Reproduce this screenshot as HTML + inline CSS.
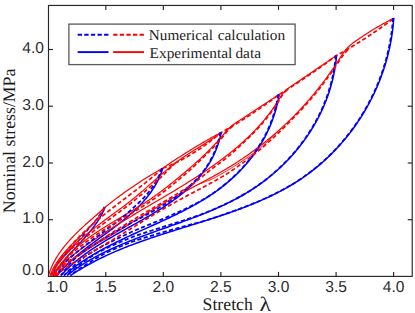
<!DOCTYPE html>
<html><head><meta charset="utf-8"><title>chart</title>
<style>
html,body{margin:0;padding:0;background:#fff;}
body{width:415px;height:313px;overflow:hidden;}
svg{display:block;}
text{text-rendering:geometricPrecision;}
.sans{font-family:"Liberation Sans",sans-serif;font-size:15.8px;fill:#2b2b2b;}
.serif{font-family:"Liberation Serif",serif;font-size:14.9px;fill:#1c1c1c;}
</style></head><body>
<svg width="415" height="313" viewBox="0 0 415 313">
<rect x="0" y="0" width="415" height="313" fill="#fff"/>
<defs><clipPath id="c"><rect x="48.5" y="5.45" width="363.7" height="273.45"/></clipPath></defs>
<g clip-path="url(#c)" stroke-linejoin="round">
<path d="M104.36 206.90 L104.19 207.22 L104.03 207.54 L103.86 207.87 L103.69 208.19 L103.52 208.50 L103.35 208.82 L103.18 209.14 L103.00 209.45 L102.82 209.77 L102.65 210.08 L102.47 210.39 L102.29 210.70 L102.11 211.01 L101.93 211.32 L101.74 211.62 L101.56 211.93 L101.37 212.23 L101.18 212.54 L100.99 212.84 L100.80 213.14 L100.61 213.44 L100.42 213.74 L100.23 214.04 L100.03 214.33 L99.84 214.63 L99.64 214.92 L99.44 215.22 L99.24 215.51 L99.04 215.80 L98.84 216.09 L98.64 216.38 L98.44 216.67 L98.23 216.96 L98.02 217.25 L97.82 217.53 L97.61 217.82 L97.40 218.10 L97.19 218.39 L96.98 218.67 L96.77 218.95 L96.55 219.23 L96.34 219.51 L96.12 219.79 L95.91 220.07 L95.69 220.34 L95.47 220.62 L95.25 220.90 L95.03 221.17 L94.81 221.44 L94.59 221.72 L94.37 221.99 L94.15 222.26 L93.92 222.53 L93.70 222.80 L93.47 223.07 L93.24 223.34 L93.01 223.61 L92.78 223.88 L92.55 224.15 L92.32 224.41 L92.09 224.68 L91.86 224.94 L91.63 225.21 L91.39 225.47 L91.16 225.73 L90.92 226.00 L90.69 226.26 L90.45 226.52 L90.21 226.78 L89.97 227.04 L89.73 227.30 L89.50 227.56 L89.29 227.84 L89.07 228.12 L88.86 228.40 L88.64 228.68 L88.43 228.96 L88.21 229.24 L87.99 229.52 L87.78 229.80 L87.56 230.08 L87.34 230.35 L87.12 230.63 L86.90 230.91 L86.68 231.19 L86.45 231.46 L86.23 231.74 L86.01 232.02 L85.78 232.29 L85.56 232.57 L85.33 232.84 L85.11 233.12 L84.88 233.39 L84.65 233.67 L84.42 233.94 L84.20 234.21 L83.96 234.48 L83.73 234.75 L83.49 235.02 L83.26 235.29 L83.02 235.56 L82.78 235.83 L82.55 236.09 L82.31 236.36 L82.07 236.63 L81.83 236.90 L81.59 237.16 L81.35 237.43 L81.11 237.70 L80.87 237.97 L80.63 238.23 L80.39 238.50 L80.15 238.77 L79.91 239.03 L79.67 239.30 L79.42 239.56 L79.18 239.83 L78.94 240.10 L78.69 240.36 L78.45 240.63 L78.21 240.89 L77.96 241.16 L77.72 241.43 L77.47 241.69 L77.23 241.96 L76.98 242.22 L76.74 242.49 L76.49 242.75 L76.25 243.02 L76.00 243.28 L75.75 243.55 L75.51 243.82 L75.26 244.08 L75.01 244.35 L74.77 244.61 L74.52 244.88 L74.27 245.15 L74.03 245.41 L73.78 245.68 L73.53 245.94 L73.29 246.21 L73.04 246.48 L72.79 246.74 L72.54 247.01 L72.30 247.28 L72.05 247.54 L71.80 247.81 L71.56 248.08 L71.31 248.34 L71.06 248.61 L70.81 248.88 L70.57 249.15 L70.32 249.41 L70.07 249.68 L69.83 249.95 L69.58 250.22 L69.33 250.49 L69.09 250.76 L68.84 251.03 L68.59 251.30 L68.35 251.57 L68.10 251.84 L67.86 252.11 L67.61 252.38 L67.37 252.65 L67.12 252.92 L66.88 253.19 L66.63 253.46 L66.39 253.73 L66.14 254.01 L65.90 254.28 L65.66 254.55 L65.42 254.83 L65.17 255.10 L64.93 255.37 L64.69 255.65 L64.45 255.92 L64.21 256.20 L63.97 256.47 L63.72 256.75 L63.48 257.03 L63.25 257.30 L63.01 257.58 L62.77 257.86 L62.53 258.14 L62.29 258.42 L62.05 258.69 L61.82 258.97 L61.58 259.25 L61.34 259.54 L61.11 259.82 L60.87 260.10 L60.64 260.38 L60.41 260.66 L60.17 260.95 L59.94 261.23 L59.71 261.51 L59.48 261.80 L59.25 262.08 L59.02 262.37 L58.79 262.66 L58.56 262.94 L58.33 263.23 L58.10 263.52 L57.88 263.81 L57.65 264.10 L57.43 264.39 L57.20 264.68 L56.98 264.97 L56.75 265.26 L56.53 265.55 L56.31 265.85 L56.09 266.14 L55.87 266.44 L55.65 266.73 L55.52 267.09 L55.39 267.45 L55.26 267.81 L55.13 268.17 L55.01 268.53 L54.88 268.89 L54.76 269.26 L54.64 269.62 L54.51 269.98 L54.39 270.34 L54.28 270.70 L54.16 271.07 L54.04 271.43 L53.93 271.79 L53.82 272.15 L53.71 272.52 L53.60 272.88 L53.49 273.24 L53.38 273.60 L53.28 273.97 L53.17 274.33 L53.07 274.69 L52.97 275.06 L52.87 275.42" fill="none" stroke="#0000ff" stroke-width="1.50" stroke-dasharray="4.2 2.4"/>
<path d="M48.40 275.50 L48.74 274.39 L49.11 273.30 L49.48 272.21 L49.88 271.13 L50.29 270.06 L50.71 269.00 L51.15 267.95 L51.61 266.91 L52.07 265.88 L52.56 264.85 L53.06 263.83 L53.57 262.82 L54.09 261.82 L54.63 260.83 L55.18 259.84 L55.74 258.86 L56.32 257.89 L56.91 256.93 L57.51 255.97 L58.12 255.02 L58.74 254.08 L59.38 253.15 L60.02 252.22 L60.68 251.29 L61.34 250.38 L62.02 249.47 L62.70 248.57 L63.40 247.67 L64.10 246.78 L64.82 245.90 L65.54 245.02 L66.27 244.14 L67.01 243.28 L67.75 242.41 L68.51 241.56 L69.27 240.70 L70.04 239.86 L70.81 239.01 L71.59 238.18 L72.38 237.34 L73.17 236.52 L73.97 235.69 L74.78 234.87 L75.59 234.06 L76.40 233.25 L77.22 232.44 L78.05 231.64 L78.88 230.84 L79.71 230.04 L80.54 229.25 L81.38 228.46 L82.22 227.67 L83.07 226.89 L83.91 226.11 L84.76 225.33 L85.61 224.56 L86.47 223.79 L87.32 223.02 L88.18 222.25 L89.03 221.48 L89.89 220.72 L90.74 219.96 L91.60 219.20 L92.46 218.44 L93.31 217.69 L94.17 216.93 L95.02 216.18 L95.88 215.43 L96.73 214.68 L97.58 213.93 L98.43 213.18 L99.27 212.43 L100.11 211.68 L100.95 210.93 L101.79 210.19 L102.62 209.44 L103.45 208.69 L104.28 207.95 L105.10 207.20 L105.10 207.20 L106.58 206.02 L108.06 204.85 L109.54 203.69 L111.02 202.54 L112.50 201.40 L113.98 200.26 L115.46 199.14 L116.94 198.03 L118.42 196.92 L119.89 195.83 L121.37 194.74 L122.85 193.67 L124.33 192.60 L125.81 191.54 L127.29 190.50 L128.77 189.46 L130.25 188.43 L131.73 187.41 L133.21 186.40 L134.69 185.40 L136.17 184.41 L137.65 183.43 L139.13 182.46 L140.61 181.50 L142.09 180.54 L143.57 179.60 L145.05 178.67 L146.53 177.74 L148.01 176.83 L149.48 175.92 L150.96 175.03 L152.44 174.14 L153.92 173.26 L155.40 172.40 L156.88 171.54 L158.36 170.69 L159.84 169.85 L161.32 169.02 L162.80 168.20 L162.80 168.20 L164.30 167.16 L165.80 166.13 L167.30 165.11 L168.80 164.09 L170.30 163.07 L171.80 162.07 L173.30 161.07 L174.80 160.07 L176.30 159.09 L177.80 158.11 L179.30 157.13 L180.80 156.16 L182.30 155.20 L183.80 154.24 L185.30 153.29 L186.80 152.35 L188.30 151.41 L189.80 150.48 L191.30 149.56 L192.80 148.64 L194.30 147.73 L195.80 146.82 L197.30 145.93 L198.80 145.03 L200.30 144.15 L201.80 143.27 L203.30 142.39 L204.80 141.53 L206.30 140.66 L207.80 139.81 L209.30 138.96 L210.80 138.12 L212.30 137.28 L213.80 136.45 L215.30 135.63 L216.80 134.81 L218.30 134.00 L219.80 133.20 L221.30 132.40" fill="none" stroke="#ff0000" stroke-width="1.20"/>
<path d="M105.10 207.20 L104.96 207.54 L104.82 207.88 L104.68 208.21 L104.54 208.55 L104.39 208.88 L104.24 209.22 L104.10 209.55 L103.95 209.88 L103.80 210.21 L103.64 210.54 L103.49 210.87 L103.33 211.20 L103.18 211.53 L103.02 211.85 L102.86 212.18 L102.70 212.50 L102.53 212.82 L102.37 213.15 L102.21 213.47 L102.04 213.79 L101.87 214.11 L101.70 214.42 L101.53 214.74 L101.36 215.06 L101.19 215.37 L101.01 215.69 L100.84 216.00 L100.66 216.32 L100.48 216.63 L100.30 216.94 L100.12 217.25 L99.94 217.56 L99.75 217.87 L99.57 218.18 L99.38 218.48 L99.20 218.79 L99.01 219.10 L98.82 219.40 L98.63 219.70 L98.44 220.01 L98.25 220.31 L98.05 220.61 L97.86 220.91 L97.66 221.21 L97.47 221.51 L97.27 221.81 L97.07 222.11 L96.87 222.41 L96.67 222.71 L96.47 223.00 L96.26 223.30 L96.06 223.59 L95.85 223.89 L95.65 224.18 L95.44 224.47 L95.23 224.76 L95.03 225.06 L94.82 225.35 L94.60 225.64 L94.39 225.93 L94.18 226.22 L93.97 226.50 L93.75 226.79 L93.54 227.08 L93.32 227.37 L93.11 227.65 L92.89 227.94 L92.67 228.22 L92.45 228.51 L92.23 228.79 L92.01 229.08 L91.79 229.36 L91.57 229.64 L91.34 229.92 L91.12 230.20 L90.89 230.49 L90.67 230.77 L90.44 231.05 L90.22 231.33 L89.99 231.60 L89.76 231.88 L89.53 232.16 L89.30 232.44 L89.07 232.72 L88.84 232.99 L88.61 233.27 L88.38 233.55 L88.15 233.82 L87.92 234.10 L87.68 234.37 L87.45 234.65 L87.21 234.92 L86.98 235.20 L86.74 235.47 L86.51 235.74 L86.27 236.02 L86.03 236.29 L85.80 236.56 L85.56 236.83 L85.32 237.10 L85.08 237.38 L84.84 237.65 L84.60 237.92 L84.36 238.19 L84.12 238.46 L83.88 238.73 L83.64 239.00 L83.40 239.27 L83.16 239.54 L82.92 239.81 L82.67 240.08 L82.43 240.34 L82.19 240.61 L81.94 240.88 L81.70 241.15 L81.46 241.42 L81.21 241.68 L80.97 241.95 L80.72 242.22 L80.48 242.49 L80.23 242.75 L79.99 243.02 L79.74 243.29 L79.50 243.55 L79.25 243.82 L79.00 244.09 L78.76 244.35 L78.51 244.62 L78.26 244.89 L78.02 245.15 L77.77 245.42 L77.52 245.69 L77.28 245.95 L77.03 246.22 L76.78 246.48 L76.54 246.75 L76.29 247.02 L76.04 247.28 L75.80 247.55 L75.55 247.81 L75.30 248.08 L75.05 248.35 L74.81 248.61 L74.56 248.88 L74.31 249.15 L74.07 249.41 L73.82 249.68 L73.57 249.94 L73.33 250.21 L73.08 250.48 L72.83 250.74 L72.59 251.01 L72.34 251.28 L72.10 251.54 L71.85 251.81 L71.61 252.08 L71.36 252.35 L71.12 252.61 L70.87 252.88 L70.63 253.15 L70.38 253.42 L70.14 253.69 L69.89 253.95 L69.65 254.22 L69.41 254.49 L69.16 254.76 L68.92 255.03 L68.68 255.30 L68.44 255.57 L68.20 255.84 L67.95 256.11 L67.71 256.38 L67.47 256.65 L67.23 256.92 L66.99 257.19 L66.75 257.47 L66.51 257.74 L66.28 258.01 L66.04 258.28 L65.80 258.55 L65.56 258.83 L65.33 259.10 L65.09 259.38 L64.85 259.65 L64.62 259.92 L64.38 260.20 L64.15 260.47 L63.92 260.75 L63.68 261.03 L63.45 261.30 L63.22 261.58 L62.99 261.86 L62.76 262.13 L62.53 262.41 L62.30 262.69 L62.07 262.97 L61.84 263.25 L61.61 263.53 L61.39 263.81 L61.16 264.09 L60.94 264.37 L60.71 264.65 L60.49 264.94 L60.26 265.22 L60.04 265.50 L59.82 265.79 L59.60 266.07 L59.38 266.36 L59.16 266.64 L58.94 266.93 L58.72 267.21 L58.51 267.50 L58.29 267.79 L58.08 268.08 L57.86 268.37 L57.65 268.66 L57.43 268.95 L57.22 269.24 L57.01 269.53 L56.80 269.82 L56.59 270.11 L56.38 270.41 L56.18 270.70 L55.97 271.00 L55.77 271.29 L55.56 271.59 L55.36 271.88 L55.16 272.18 L54.95 272.48 L54.75 272.78 L54.56 273.08 L54.36 273.38 L54.16 273.68 L53.96 273.98 L53.77 274.28 L53.57 274.59 L53.38 274.89 L53.19 275.19 L53.00 275.50" fill="none" stroke="#0000ff" stroke-width="1.50"/>
<path d="M50.00 275.50 L50.14 275.14 L50.27 274.79 L50.41 274.44 L50.55 274.09 L50.70 273.74 L50.84 273.39 L50.99 273.04 L51.14 272.70 L51.29 272.35 L51.44 272.01 L51.60 271.67 L51.75 271.33 L51.91 270.99 L52.07 270.65 L52.23 270.32 L52.40 269.98 L52.56 269.65 L52.73 269.32 L52.90 268.98 L53.07 268.66 L53.24 268.33 L53.42 268.00 L53.59 267.67 L53.77 267.35 L53.95 267.03 L54.13 266.71 L54.31 266.38 L54.50 266.07 L54.68 265.75 L54.87 265.43 L55.06 265.11 L55.25 264.80 L55.44 264.49 L55.63 264.17 L55.83 263.86 L56.02 263.55 L56.22 263.24 L56.42 262.93 L56.62 262.63 L56.82 262.32 L57.03 262.02 L57.23 261.71 L57.44 261.41 L57.65 261.11 L57.86 260.81 L58.07 260.51 L58.28 260.21 L58.49 259.91 L58.70 259.61 L58.92 259.31 L59.14 259.02 L59.36 258.73 L59.57 258.43 L59.79 258.14 L60.02 257.85 L60.24 257.56 L60.46 257.27 L60.69 256.98 L60.91 256.69 L61.14 256.40 L61.37 256.12 L61.60 255.83 L61.83 255.55 L62.06 255.26 L62.30 254.98 L62.53 254.70 L62.76 254.41 L63.00 254.13 L63.24 253.85 L63.48 253.57 L63.71 253.29 L63.95 253.02 L64.19 252.74 L64.44 252.46 L64.68 252.18 L64.92 251.91 L65.17 251.63 L65.41 251.36 L65.66 251.09 L65.90 250.81 L66.15 250.54 L66.40 250.27 L66.65 250.00 L66.90 249.73 L67.15 249.46 L67.40 249.19 L67.65 248.92 L67.90 248.65 L68.16 248.38 L68.41 248.11 L68.67 247.84 L68.92 247.58 L69.18 247.31 L69.43 247.04 L69.69 246.78 L69.95 246.51 L70.21 246.25 L70.47 245.98 L70.72 245.72 L70.98 245.46 L71.24 245.19 L71.51 244.93 L71.77 244.67 L72.03 244.41 L72.29 244.14 L72.55 243.88 L72.82 243.62 L73.08 243.36 L73.34 243.10 L73.61 242.84 L73.87 242.58 L74.14 242.32 L74.40 242.06 L74.67 241.80 L74.93 241.54 L75.20 241.28 L75.46 241.02 L75.73 240.76 L76.00 240.50 L76.26 240.25 L76.53 239.99 L76.80 239.73 L77.07 239.47 L77.33 239.21 L77.60 238.95 L77.87 238.70 L78.14 238.44 L78.40 238.18 L78.67 237.92 L78.94 237.67 L79.21 237.41 L79.48 237.15 L79.74 236.89 L80.01 236.63 L80.28 236.38 L80.55 236.12 L80.82 235.86 L81.08 235.60 L81.35 235.34 L81.62 235.09 L81.89 234.83 L82.16 234.57 L82.42 234.31 L82.69 234.05 L82.96 233.79 L83.22 233.54 L83.49 233.28 L83.76 233.02 L84.02 232.76 L84.29 232.50 L84.55 232.24 L84.82 231.98 L85.08 231.72 L85.35 231.46 L85.61 231.20 L85.88 230.94 L86.14 230.67 L86.41 230.41 L86.67 230.15 L86.93 229.89 L87.19 229.63 L87.45 229.36 L87.72 229.10 L87.98 228.84 L88.24 228.57 L88.50 228.31 L88.76 228.04 L89.02 227.78 L89.27 227.51 L89.53 227.25 L89.79 226.98 L90.04 226.71 L90.30 226.45 L90.56 226.18 L90.81 225.91 L91.06 225.64 L91.32 225.37 L91.57 225.10 L91.82 224.83 L92.07 224.56 L92.32 224.29 L92.57 224.02 L92.82 223.74 L93.07 223.47 L93.32 223.20 L93.57 222.92 L93.81 222.65 L94.06 222.37 L94.30 222.09 L94.54 221.82 L94.79 221.54 L95.03 221.26 L95.27 220.98 L95.51 220.70 L95.75 220.42 L95.99 220.14 L96.22 219.86 L96.46 219.58 L96.69 219.29 L96.93 219.01 L97.16 218.72 L97.39 218.44 L97.62 218.15 L97.85 217.86 L98.08 217.58 L98.31 217.29 L98.54 217.00 L98.76 216.71 L98.99 216.41 L99.21 216.12 L99.43 215.83 L99.65 215.53 L99.87 215.24 L100.09 214.94 L100.31 214.65 L100.52 214.35 L100.74 214.05 L100.95 213.75 L101.16 213.45 L101.37 213.14 L101.58 212.84 L101.79 212.54 L101.99 212.23 L102.20 211.93 L102.40 211.62 L102.61 211.31 L102.81 211.00 L103.01 210.69 L103.20 210.38 L103.40 210.07 L103.60 209.75 L103.79 209.44 L103.98 209.12 L104.17 208.80 L104.36 208.49 L104.55 208.17 L104.73 207.85 L104.92 207.52 L105.10 207.20" fill="none" stroke="#ff0000" stroke-width="1.20"/>
<path d="M162.80 168.20 L162.61 168.83 L162.41 169.45 L162.20 170.08 L161.99 170.69 L161.78 171.31 L161.56 171.92 L161.34 172.53 L161.11 173.14 L160.88 173.74 L160.65 174.34 L160.41 174.94 L160.16 175.53 L159.92 176.12 L159.66 176.71 L159.41 177.29 L159.15 177.87 L158.88 178.45 L158.61 179.02 L158.34 179.60 L158.06 180.16 L157.78 180.73 L157.49 181.29 L157.21 181.85 L156.91 182.41 L156.62 182.97 L156.32 183.52 L156.01 184.07 L155.70 184.61 L155.39 185.16 L155.08 185.70 L154.76 186.24 L154.43 186.77 L154.11 187.31 L153.78 187.84 L153.44 188.37 L153.11 188.89 L152.77 189.41 L152.42 189.94 L152.07 190.45 L151.72 190.97 L151.37 191.48 L151.01 191.99 L150.65 192.50 L150.29 193.01 L149.92 193.51 L149.55 194.01 L149.18 194.51 L148.80 195.01 L148.42 195.50 L148.04 195.99 L147.65 196.48 L147.26 196.97 L146.87 197.46 L146.48 197.94 L146.08 198.42 L145.68 198.90 L145.28 199.38 L144.87 199.86 L144.46 200.33 L144.05 200.80 L143.63 201.27 L143.22 201.74 L142.80 202.20 L142.38 202.67 L141.95 203.13 L141.52 203.59 L141.10 204.05 L140.66 204.50 L140.23 204.96 L139.79 205.41 L139.35 205.86 L138.91 206.31 L138.47 206.76 L138.02 207.20 L137.57 207.65 L137.12 208.09 L136.67 208.53 L136.21 208.97 L135.76 209.41 L135.30 209.85 L134.84 210.28 L134.37 210.71 L133.91 211.15 L133.44 211.58 L132.97 212.01 L132.50 212.43 L132.03 212.86 L131.55 213.29 L131.07 213.71 L130.60 214.13 L130.12 214.55 L129.63 214.97 L129.15 215.39 L128.67 215.81 L128.18 216.22 L127.69 216.64 L127.20 217.05 L126.71 217.47 L126.22 217.88 L125.72 218.29 L125.23 218.70 L124.73 219.11 L124.23 219.52 L123.73 219.92 L123.23 220.33 L122.73 220.73 L122.22 221.14 L121.72 221.54 L121.21 221.94 L120.70 222.34 L120.19 222.74 L119.68 223.14 L119.17 223.54 L118.66 223.94 L118.15 224.34 L117.64 224.74 L117.12 225.13 L116.61 225.53 L116.09 225.92 L115.57 226.32 L115.05 226.71 L114.53 227.10 L114.02 227.50 L113.49 227.89 L112.97 228.28 L112.45 228.67 L111.93 229.06 L111.41 229.45 L110.88 229.84 L110.36 230.23 L109.84 230.62 L109.31 231.01 L108.79 231.40 L108.26 231.78 L107.73 232.17 L107.21 232.56 L106.68 232.95 L106.15 233.33 L105.63 233.72 L105.10 234.11 L104.57 234.50 L104.04 234.88 L103.51 235.27 L102.99 235.66 L102.46 236.04 L101.93 236.43 L101.40 236.81 L100.87 237.20 L100.35 237.59 L99.82 237.97 L99.29 238.36 L98.76 238.75 L98.23 239.14 L97.71 239.52 L97.18 239.91 L96.65 240.30 L96.13 240.69 L95.60 241.07 L95.08 241.46 L94.55 241.85 L94.03 242.24 L93.50 242.63 L92.98 243.02 L92.45 243.41 L91.93 243.80 L91.41 244.19 L90.89 244.58 L90.37 244.97 L89.85 245.37 L89.33 245.76 L88.81 246.15 L88.29 246.55 L87.77 246.94 L87.26 247.34 L86.74 247.74 L86.23 248.13 L85.71 248.53 L85.20 248.93 L84.69 249.33 L84.18 249.73 L83.67 250.13 L83.16 250.53 L82.65 250.93 L82.15 251.33 L81.64 251.74 L81.14 252.14 L80.63 252.55 L80.13 252.96 L79.63 253.36 L79.14 253.77 L78.64 254.18 L78.14 254.59 L77.65 255.00 L77.15 255.42 L76.66 255.83 L76.17 256.25 L75.69 256.66 L75.20 257.08 L74.71 257.50 L74.23 257.92 L73.75 258.34 L73.27 258.76 L72.79 259.19 L72.31 259.61 L71.84 260.04 L71.37 260.47 L70.90 260.89 L70.43 261.33 L69.96 261.76 L69.49 262.19 L69.03 262.63 L68.57 263.06 L68.11 263.50 L67.65 263.94 L67.20 264.38 L66.75 264.82 L66.30 265.27 L65.85 265.71 L65.40 266.16 L64.96 266.61 L64.52 267.06 L64.08 267.52 L63.64 267.97 L63.21 268.43 L62.77 268.88 L62.34 269.34 L61.92 269.81 L61.49 270.27 L61.07 270.74 L60.65 271.20 L60.24 271.67 L59.82 272.14 L59.41 272.62 L59.00 273.09 L58.60 273.57 L58.19 274.05 L57.79 274.53 L57.39 275.01 L57.00 275.50" fill="none" stroke="#0000ff" stroke-width="1.50"/>
<path d="M51.50 275.50 L51.78 274.78 L52.06 274.07 L52.35 273.36 L52.65 272.66 L52.96 271.96 L53.27 271.27 L53.60 270.59 L53.93 269.91 L54.27 269.24 L54.61 268.57 L54.96 267.91 L55.32 267.25 L55.69 266.60 L56.07 265.95 L56.45 265.31 L56.83 264.67 L57.23 264.04 L57.63 263.41 L58.03 262.79 L58.45 262.17 L58.87 261.56 L59.29 260.95 L59.72 260.34 L60.16 259.74 L60.60 259.15 L61.05 258.56 L61.50 257.97 L61.96 257.39 L62.43 256.81 L62.90 256.24 L63.37 255.66 L63.85 255.10 L64.33 254.53 L64.82 253.97 L65.32 253.42 L65.82 252.87 L66.32 252.32 L66.83 251.77 L67.34 251.23 L67.85 250.69 L68.37 250.16 L68.89 249.62 L69.42 249.09 L69.95 248.57 L70.49 248.04 L71.02 247.52 L71.56 247.01 L72.11 246.49 L72.66 245.98 L73.21 245.47 L73.76 244.96 L74.32 244.46 L74.87 243.95 L75.44 243.45 L76.00 242.96 L76.56 242.46 L77.13 241.97 L77.70 241.48 L78.28 240.99 L78.85 240.50 L79.43 240.01 L80.01 239.53 L80.58 239.05 L81.17 238.56 L81.75 238.08 L82.33 237.61 L82.92 237.13 L83.50 236.65 L84.09 236.18 L84.68 235.71 L85.27 235.24 L85.86 234.76 L86.45 234.29 L87.04 233.83 L87.63 233.36 L88.22 232.89 L88.81 232.42 L89.40 231.96 L89.99 231.49 L90.58 231.03 L91.17 230.56 L91.77 230.10 L92.36 229.64 L92.95 229.18 L93.54 228.71 L94.14 228.25 L94.73 227.80 L95.32 227.34 L95.92 226.88 L96.51 226.42 L97.11 225.96 L97.70 225.51 L98.30 225.05 L98.89 224.60 L99.49 224.15 L100.08 223.69 L100.68 223.24 L101.28 222.79 L101.88 222.34 L102.47 221.89 L103.07 221.44 L103.67 220.99 L104.27 220.54 L104.87 220.10 L105.47 219.65 L106.07 219.21 L106.67 218.76 L107.28 218.32 L107.88 217.87 L108.48 217.43 L109.08 216.99 L109.69 216.55 L110.29 216.11 L110.89 215.66 L111.50 215.22 L112.10 214.78 L112.70 214.34 L113.31 213.90 L113.91 213.46 L114.52 213.02 L115.12 212.58 L115.72 212.14 L116.33 211.70 L116.93 211.26 L117.53 210.81 L118.13 210.37 L118.74 209.93 L119.34 209.49 L119.94 209.04 L120.54 208.60 L121.14 208.15 L121.74 207.70 L122.34 207.26 L122.94 206.81 L123.53 206.36 L124.13 205.91 L124.72 205.46 L125.32 205.01 L125.91 204.55 L126.51 204.10 L127.10 203.64 L127.69 203.19 L128.28 202.73 L128.87 202.27 L129.46 201.81 L130.05 201.35 L130.64 200.88 L131.22 200.42 L131.81 199.95 L132.39 199.49 L132.97 199.02 L133.56 198.55 L134.14 198.08 L134.72 197.60 L135.29 197.13 L135.87 196.65 L136.45 196.17 L137.02 195.70 L137.59 195.22 L138.17 194.73 L138.74 194.25 L139.31 193.77 L139.88 193.28 L140.45 192.80 L141.02 192.31 L141.59 191.82 L142.15 191.33 L142.72 190.84 L143.28 190.35 L143.85 189.86 L144.41 189.37 L144.98 188.87 L145.54 188.38 L146.11 187.89 L146.67 187.39 L147.23 186.90 L147.80 186.40 L148.36 185.90 L148.92 185.41 L149.48 184.91 L150.04 184.42 L150.61 183.92 L151.17 183.42 L151.73 182.93 L152.29 182.43 L152.85 181.93 L153.42 181.44 L153.98 180.94 L154.54 180.44 L155.10 179.95 L155.67 179.45 L156.23 178.96 L156.79 178.46 L157.36 177.97 L157.92 177.47 L158.49 176.98 L159.05 176.49 L159.62 176.00 L160.18 175.51 L160.75 175.01 L161.32 174.53 L161.89 174.04 L162.45 173.55 L163.02 173.06 L163.59 172.58 L164.17 172.09 L164.74 171.61 L165.31 171.12 L165.88 170.64 L166.46 170.16 L167.03 169.68 L167.61 169.21 L168.19 168.73 L168.77 168.26 L169.35 167.78 L169.93 167.31 L170.51 166.84 L171.10 166.37 L171.68 165.91 L172.27 165.44 L172.85 164.98 L173.44 164.52 L174.03 164.06 L174.63 163.60 L175.22 163.15 L175.81 162.69 L176.41 162.24 L177.01 161.79 L177.61 161.35 L178.21 160.90 L178.81 160.46 L179.42 160.02 L180.02 159.59 L180.63 159.15 L181.24 158.72 L181.86 158.29 L182.47 157.86 L183.09 157.44 L183.70 157.01 L184.32 156.59 L184.94 156.18 L185.57 155.76 L186.19 155.35 L186.82 154.94 L187.44 154.53 L188.07 154.12 L188.70 153.71 L189.33 153.30 L189.96 152.90 L190.59 152.50 L191.23 152.10 L191.86 151.70 L192.50 151.30 L193.13 150.90 L193.77 150.50 L194.40 150.10 L195.04 149.71 L195.68 149.31 L196.32 148.92 L196.96 148.52 L197.59 148.13 L198.23 147.73 L198.87 147.34 L199.51 146.95 L200.15 146.55 L200.79 146.16 L201.42 145.76 L202.06 145.37 L202.70 144.97 L203.34 144.57 L203.97 144.18 L204.61 143.78 L205.24 143.38 L205.88 142.98 L206.51 142.58 L207.14 142.18 L207.78 141.78 L208.41 141.37 L209.04 140.96 L209.67 140.56 L210.29 140.15 L210.92 139.74 L211.54 139.33 L212.17 138.91 L212.79 138.49 L213.41 138.08 L214.03 137.65 L214.65 137.23 L215.26 136.81 L215.87 136.38 L216.49 135.95 L217.10 135.51 L217.70 135.08 L218.31 134.64 L218.91 134.20 L219.51 133.75 L220.11 133.31 L220.71 132.85 L221.30 132.40" fill="none" stroke="#ff0000" stroke-width="1.20"/>
<path d="M221.30 132.40 L221.09 133.39 L220.88 134.38 L220.65 135.35 L220.42 136.32 L220.18 137.29 L219.93 138.24 L219.67 139.19 L219.40 140.14 L219.13 141.07 L218.85 142.00 L218.56 142.92 L218.26 143.84 L217.95 144.75 L217.64 145.65 L217.32 146.54 L216.99 147.43 L216.66 148.32 L216.32 149.19 L215.97 150.06 L215.61 150.93 L215.24 151.78 L214.87 152.64 L214.49 153.48 L214.11 154.32 L213.71 155.15 L213.31 155.98 L212.90 156.80 L212.49 157.61 L212.07 158.42 L211.64 159.23 L211.21 160.02 L210.76 160.82 L210.32 161.60 L209.86 162.38 L209.40 163.16 L208.93 163.93 L208.46 164.69 L207.98 165.45 L207.49 166.20 L207.00 166.95 L206.50 167.69 L206.00 168.43 L205.49 169.16 L204.97 169.89 L204.45 170.61 L203.92 171.33 L203.38 172.04 L202.84 172.75 L202.30 173.45 L201.75 174.15 L201.19 174.84 L200.63 175.53 L200.06 176.21 L199.49 176.89 L198.91 177.56 L198.32 178.23 L197.73 178.90 L197.14 179.56 L196.54 180.21 L195.93 180.87 L195.32 181.51 L194.71 182.16 L194.09 182.80 L193.47 183.43 L192.84 184.06 L192.20 184.69 L191.56 185.31 L190.92 185.93 L190.27 186.54 L189.62 187.16 L188.96 187.76 L188.30 188.37 L187.64 188.97 L186.97 189.56 L186.29 190.16 L185.61 190.74 L184.93 191.33 L184.25 191.91 L183.55 192.49 L182.86 193.07 L182.16 193.64 L181.46 194.21 L180.75 194.77 L180.04 195.34 L179.33 195.89 L178.61 196.45 L177.89 197.00 L177.17 197.55 L176.44 198.10 L175.71 198.65 L174.98 199.19 L174.24 199.73 L173.50 200.26 L172.76 200.80 L172.01 201.33 L171.26 201.86 L170.51 202.38 L169.75 202.91 L168.99 203.43 L168.23 203.94 L167.47 204.46 L166.70 204.97 L165.93 205.49 L165.16 206.00 L164.39 206.50 L163.61 207.01 L162.83 207.51 L162.05 208.01 L161.26 208.51 L160.48 209.01 L159.69 209.51 L158.90 210.00 L158.11 210.49 L157.31 210.98 L156.51 211.47 L155.72 211.96 L154.92 212.45 L154.11 212.93 L153.31 213.41 L152.50 213.90 L151.70 214.38 L150.89 214.85 L150.08 215.33 L149.27 215.81 L148.45 216.28 L147.64 216.76 L146.82 217.23 L146.01 217.70 L145.19 218.18 L144.37 218.65 L143.55 219.12 L142.73 219.58 L141.91 220.05 L141.08 220.52 L140.26 220.99 L139.43 221.45 L138.61 221.92 L137.78 222.38 L136.96 222.85 L136.13 223.31 L135.30 223.78 L134.47 224.24 L133.64 224.70 L132.82 225.17 L131.99 225.63 L131.16 226.09 L130.33 226.55 L129.50 227.02 L128.67 227.48 L127.84 227.94 L127.01 228.41 L126.18 228.87 L125.35 229.33 L124.52 229.80 L123.70 230.26 L122.87 230.73 L122.04 231.19 L121.21 231.66 L120.39 232.12 L119.56 232.59 L118.73 233.06 L117.91 233.52 L117.09 233.99 L116.26 234.46 L115.44 234.93 L114.62 235.40 L113.80 235.88 L112.98 236.35 L112.16 236.82 L111.34 237.30 L110.53 237.77 L109.71 238.25 L108.90 238.73 L108.09 239.21 L107.28 239.69 L106.47 240.17 L105.66 240.66 L104.86 241.14 L104.05 241.63 L103.25 242.12 L102.45 242.61 L101.65 243.10 L100.85 243.60 L100.06 244.09 L99.27 244.59 L98.47 245.09 L97.69 245.59 L96.90 246.09 L96.11 246.60 L95.33 247.10 L94.55 247.61 L93.78 248.12 L93.00 248.64 L92.23 249.15 L91.46 249.67 L90.69 250.19 L89.93 250.71 L89.17 251.24 L88.41 251.77 L87.65 252.30 L86.90 252.83 L86.15 253.37 L85.40 253.90 L84.66 254.45 L83.92 254.99 L83.18 255.54 L82.44 256.09 L81.71 256.64 L80.99 257.19 L80.26 257.75 L79.54 258.31 L78.82 258.88 L78.11 259.45 L77.40 260.02 L76.69 260.59 L75.99 261.17 L75.29 261.75 L74.60 262.34 L73.91 262.93 L73.22 263.52 L72.54 264.11 L71.86 264.71 L71.18 265.31 L70.51 265.92 L69.85 266.53 L69.18 267.15 L68.53 267.76 L67.87 268.39 L67.23 269.01 L66.58 269.64 L65.94 270.28 L65.31 270.91 L64.68 271.56 L64.05 272.20 L63.43 272.85 L62.82 273.51 L62.21 274.17 L61.60 274.83 L61.00 275.50" fill="none" stroke="#0000ff" stroke-width="1.50"/>
<path d="M53.00 275.50 L53.40 274.81 L53.80 274.13 L54.20 273.45 L54.62 272.78 L55.03 272.11 L55.45 271.45 L55.88 270.79 L56.30 270.14 L56.74 269.49 L57.18 268.84 L57.62 268.20 L58.07 267.57 L58.52 266.94 L58.97 266.31 L59.43 265.69 L59.89 265.07 L60.36 264.45 L60.83 263.84 L61.31 263.24 L61.79 262.63 L62.27 262.04 L62.76 261.44 L63.25 260.85 L63.75 260.27 L64.25 259.68 L64.75 259.11 L65.26 258.53 L65.77 257.96 L66.28 257.39 L66.80 256.83 L67.32 256.27 L67.84 255.72 L68.37 255.16 L68.90 254.61 L69.44 254.07 L69.98 253.53 L70.52 252.99 L71.06 252.45 L71.61 251.92 L72.16 251.39 L72.72 250.87 L73.28 250.35 L73.84 249.83 L74.40 249.31 L74.97 248.80 L75.54 248.29 L76.11 247.78 L76.69 247.28 L77.26 246.78 L77.85 246.28 L78.43 245.78 L79.02 245.29 L79.61 244.80 L80.20 244.31 L80.79 243.83 L81.39 243.35 L81.99 242.87 L82.59 242.39 L83.20 241.92 L83.80 241.45 L84.41 240.98 L85.02 240.51 L85.64 240.04 L86.25 239.58 L86.87 239.12 L87.49 238.66 L88.11 238.21 L88.74 237.75 L89.37 237.30 L90.00 236.85 L90.63 236.40 L91.26 235.96 L91.89 235.52 L92.53 235.07 L93.17 234.63 L93.81 234.20 L94.45 233.76 L95.09 233.32 L95.74 232.89 L96.38 232.46 L97.03 232.03 L97.68 231.60 L98.33 231.17 L98.99 230.75 L99.64 230.32 L100.29 229.90 L100.95 229.48 L101.61 229.06 L102.27 228.64 L102.93 228.22 L103.59 227.81 L104.25 227.39 L104.92 226.98 L105.58 226.56 L106.25 226.15 L106.91 225.74 L107.58 225.33 L108.25 224.92 L108.92 224.51 L109.59 224.10 L110.26 223.70 L110.93 223.29 L111.61 222.88 L112.28 222.48 L112.95 222.08 L113.63 221.67 L114.30 221.27 L114.98 220.86 L115.65 220.46 L116.33 220.06 L117.00 219.66 L117.68 219.26 L118.36 218.85 L119.03 218.45 L119.71 218.05 L120.39 217.65 L121.07 217.25 L121.75 216.85 L122.42 216.45 L123.10 216.05 L123.78 215.65 L124.46 215.25 L125.13 214.85 L125.81 214.45 L126.49 214.04 L127.17 213.64 L127.84 213.24 L128.52 212.84 L129.19 212.43 L129.87 212.03 L130.55 211.63 L131.22 211.22 L131.89 210.82 L132.57 210.41 L133.24 210.01 L133.91 209.60 L134.58 209.19 L135.26 208.78 L135.93 208.37 L136.60 207.96 L137.26 207.55 L137.93 207.14 L138.60 206.73 L139.26 206.31 L139.93 205.90 L140.59 205.48 L141.26 205.07 L141.92 204.65 L142.58 204.23 L143.24 203.81 L143.90 203.38 L144.55 202.96 L145.21 202.54 L145.86 202.11 L146.51 201.68 L147.17 201.25 L147.82 200.82 L148.46 200.39 L149.11 199.95 L149.76 199.52 L150.40 199.08 L151.04 198.64 L151.68 198.20 L152.32 197.76 L152.96 197.31 L153.59 196.87 L154.23 196.42 L154.86 195.97 L155.49 195.52 L156.12 195.07 L156.75 194.61 L157.38 194.16 L158.00 193.70 L158.63 193.24 L159.25 192.78 L159.87 192.32 L160.49 191.86 L161.11 191.39 L161.73 190.93 L162.35 190.46 L162.97 190.00 L163.58 189.53 L164.20 189.06 L164.81 188.58 L165.42 188.11 L166.03 187.64 L166.64 187.16 L167.25 186.69 L167.86 186.21 L168.47 185.73 L169.08 185.25 L169.68 184.77 L170.29 184.29 L170.89 183.81 L171.50 183.33 L172.10 182.84 L172.70 182.36 L173.31 181.87 L173.91 181.38 L174.51 180.89 L175.11 180.41 L175.71 179.92 L176.31 179.43 L176.91 178.93 L177.51 178.44 L178.11 177.95 L178.70 177.46 L179.30 176.96 L179.90 176.47 L180.50 175.97 L181.09 175.48 L181.69 174.98 L182.28 174.48 L182.88 173.98 L183.47 173.49 L184.07 172.99 L184.66 172.49 L185.26 171.98 L185.85 171.48 L186.44 170.98 L187.03 170.48 L187.63 169.97 L188.22 169.47 L188.81 168.96 L189.40 168.45 L189.98 167.94 L190.57 167.43 L191.16 166.92 L191.75 166.41 L192.33 165.90 L192.92 165.39 L193.50 164.87 L194.08 164.36 L194.66 163.84 L195.25 163.32 L195.83 162.81 L196.41 162.29 L196.98 161.77 L197.56 161.24 L198.14 160.72 L198.71 160.20 L199.28 159.67 L199.86 159.14 L200.43 158.62 L201.00 158.09 L201.57 157.56 L202.14 157.02 L202.70 156.49 L203.27 155.96 L203.83 155.42 L204.39 154.88 L204.95 154.35 L205.51 153.81 L206.07 153.26 L206.63 152.72 L207.18 152.18 L207.74 151.63 L208.29 151.08 L208.84 150.53 L209.39 149.98 L209.94 149.43 L210.48 148.88 L211.03 148.32 L211.57 147.77 L212.11 147.21 L212.65 146.65 L213.19 146.09 L213.72 145.53 L214.26 144.96 L214.79 144.39 L215.32 143.83 L215.85 143.26 L216.37 142.69 L216.90 142.11 L217.42 141.54 L217.94 140.96 L218.46 140.38 L218.98 139.80 L219.49 139.22 L220.00 138.63 L220.51 138.05 L221.02 137.46 L221.53 136.87 L222.03 136.28 L222.53 135.68 L223.03 135.09 L223.53 134.49 L224.02 133.89 L224.51 133.29 L225.00 132.68 L225.49 132.08 L226.20 131.19 L226.96 130.31 L227.76 129.45 L228.61 128.59 L229.49 127.75 L230.42 126.92 L231.40 126.10 L232.41 125.29 L233.47 124.50 L234.58 123.71 L235.72 122.94 L237.01 122.10 L238.29 121.26 L239.58 120.41 L240.86 119.57 L242.15 118.73 L243.43 117.89 L244.72 117.04 L246.00 116.20 L247.28 115.36 L248.57 114.52 L249.85 113.68 L251.14 112.83 L252.42 111.99 L253.71 111.15 L254.99 110.31 L256.28 109.46 L257.56 108.62 L258.85 107.78 L260.13 106.94 L261.42 106.09 L262.70 105.25 L263.98 104.41 L265.27 103.57 L266.55 102.72 L267.84 101.88 L269.12 101.04 L270.41 100.20 L271.69 99.35 L272.98 98.51 L274.26 97.67 L275.55 96.83 L276.83 95.98 L278.12 95.14 L279.40 94.30" fill="none" stroke="#ff0000" stroke-width="1.20"/>
<path d="M279.20 94.30 L278.99 95.58 L278.76 96.86 L278.53 98.13 L278.28 99.39 L278.03 100.65 L277.76 101.90 L277.48 103.15 L277.19 104.39 L276.89 105.63 L276.58 106.86 L276.26 108.09 L275.92 109.30 L275.58 110.52 L275.23 111.73 L274.86 112.93 L274.49 114.12 L274.11 115.31 L273.71 116.50 L273.31 117.68 L272.89 118.85 L272.47 120.01 L272.03 121.18 L271.59 122.33 L271.14 123.48 L270.67 124.62 L270.20 125.76 L269.72 126.89 L269.23 128.02 L268.72 129.14 L268.21 130.25 L267.69 131.36 L267.16 132.46 L266.62 133.56 L266.08 134.65 L265.52 135.74 L264.96 136.81 L264.38 137.89 L263.80 138.95 L263.21 140.01 L262.60 141.07 L262.00 142.12 L261.38 143.16 L260.75 144.20 L260.12 145.23 L259.47 146.26 L258.82 147.28 L258.16 148.29 L257.50 149.30 L256.82 150.30 L256.14 151.29 L255.44 152.28 L254.74 153.27 L254.04 154.25 L253.32 155.22 L252.60 156.18 L251.87 157.14 L251.13 158.10 L250.39 159.04 L249.63 159.98 L248.87 160.92 L248.11 161.85 L247.33 162.77 L246.55 163.69 L245.76 164.60 L244.97 165.51 L244.17 166.41 L243.36 167.30 L242.54 168.19 L241.72 169.07 L240.89 169.94 L240.05 170.81 L239.21 171.67 L238.36 172.53 L237.51 173.38 L236.64 174.22 L235.78 175.06 L234.90 175.89 L234.02 176.72 L233.14 177.54 L232.24 178.35 L231.35 179.16 L230.44 179.96 L229.53 180.76 L228.62 181.55 L227.70 182.33 L226.77 183.10 L225.84 183.87 L224.90 184.64 L223.96 185.40 L223.01 186.15 L222.06 186.89 L221.10 187.63 L220.14 188.37 L219.17 189.09 L218.19 189.81 L217.22 190.53 L216.23 191.24 L215.25 191.94 L214.25 192.63 L213.26 193.32 L212.26 194.01 L211.25 194.69 L210.24 195.36 L209.22 196.03 L208.21 196.69 L207.18 197.35 L206.16 198.00 L205.12 198.65 L204.09 199.29 L203.05 199.93 L202.01 200.56 L200.96 201.19 L199.91 201.81 L198.86 202.43 L197.80 203.04 L196.74 203.65 L195.68 204.25 L194.61 204.86 L193.54 205.45 L192.47 206.04 L191.39 206.63 L190.31 207.22 L189.23 207.80 L188.15 208.38 L187.06 208.95 L185.97 209.52 L184.88 210.09 L183.78 210.66 L182.68 211.22 L181.58 211.78 L180.48 212.33 L179.38 212.88 L178.27 213.43 L177.16 213.98 L176.05 214.53 L174.94 215.07 L173.83 215.61 L172.71 216.14 L171.59 216.68 L170.47 217.21 L169.35 217.74 L168.23 218.27 L167.10 218.80 L165.98 219.33 L164.85 219.85 L163.73 220.37 L162.60 220.90 L161.47 221.42 L160.34 221.93 L159.20 222.45 L158.07 222.97 L156.94 223.49 L155.81 224.00 L154.67 224.51 L153.54 225.03 L152.40 225.54 L151.27 226.05 L150.13 226.56 L148.99 227.08 L147.86 227.59 L146.72 228.10 L145.58 228.61 L144.45 229.12 L143.31 229.63 L142.18 230.15 L141.04 230.66 L139.91 231.17 L138.77 231.69 L137.64 232.20 L136.50 232.71 L135.37 233.23 L134.24 233.75 L133.11 234.27 L131.98 234.78 L130.85 235.30 L129.72 235.83 L128.59 236.35 L127.47 236.87 L126.34 237.40 L125.22 237.93 L124.10 238.46 L122.98 238.99 L121.86 239.52 L120.74 240.06 L119.63 240.59 L118.51 241.13 L117.40 241.68 L116.29 242.22 L115.18 242.77 L114.08 243.32 L112.97 243.87 L111.87 244.43 L110.77 244.99 L109.68 245.55 L108.58 246.11 L107.49 246.68 L106.40 247.25 L105.31 247.83 L104.23 248.41 L103.15 248.99 L102.07 249.57 L101.00 250.16 L99.93 250.76 L98.86 251.35 L97.79 251.95 L96.73 252.56 L95.67 253.17 L94.62 253.78 L93.56 254.40 L92.51 255.02 L91.47 255.65 L90.43 256.29 L89.39 256.92 L88.36 257.56 L87.33 258.21 L86.30 258.86 L85.28 259.52 L84.27 260.18 L83.25 260.85 L82.24 261.53 L81.24 262.21 L80.24 262.89 L79.25 263.58 L78.25 264.28 L77.27 264.98 L76.29 265.69 L75.31 266.41 L74.34 267.13 L73.37 267.85 L72.41 268.59 L71.46 269.33 L70.51 270.08 L69.56 270.83 L68.62 271.59 L67.68 272.36 L66.75 273.13 L65.83 273.91 L64.91 274.70 L64.00 275.50" fill="none" stroke="#0000ff" stroke-width="1.50"/>
<path d="M54.50 275.50 L54.89 274.51 L55.30 273.55 L55.75 272.62 L56.23 271.72 L56.74 270.85 L57.27 270.01 L57.83 269.19 L58.42 268.39 L59.02 267.62 L59.65 266.86 L60.29 266.13 L60.96 265.41 L61.64 264.71 L62.34 264.02 L63.05 263.35 L63.77 262.69 L64.50 262.04 L65.25 261.40 L66.00 260.76 L66.75 260.13 L67.52 259.51 L68.28 258.89 L69.05 258.27 L69.83 257.65 L70.60 257.04 L71.38 256.42 L72.16 255.81 L72.94 255.20 L73.72 254.59 L74.51 253.99 L75.30 253.38 L76.09 252.78 L76.88 252.18 L77.67 251.58 L78.47 250.98 L79.27 250.38 L80.07 249.79 L80.87 249.19 L81.67 248.60 L82.48 248.01 L83.28 247.42 L84.09 246.84 L84.90 246.25 L85.71 245.67 L86.53 245.09 L87.34 244.51 L88.16 243.93 L88.98 243.35 L89.80 242.78 L90.62 242.20 L91.44 241.63 L92.26 241.06 L93.09 240.49 L93.91 239.93 L94.74 239.36 L95.57 238.80 L96.40 238.23 L97.23 237.67 L98.06 237.12 L98.89 236.56 L99.73 236.00 L100.56 235.45 L101.40 234.90 L102.23 234.34 L103.07 233.79 L103.91 233.25 L104.74 232.70 L105.58 232.16 L106.42 231.61 L107.26 231.07 L108.10 230.53 L108.94 229.99 L109.79 229.45 L110.63 228.92 L111.47 228.38 L112.31 227.85 L113.16 227.32 L114.00 226.79 L114.85 226.26 L115.69 225.73 L116.54 225.21 L117.38 224.68 L118.23 224.16 L119.08 223.63 L119.93 223.11 L120.77 222.59 L121.62 222.07 L122.47 221.55 L123.32 221.03 L124.17 220.51 L125.02 220.00 L125.87 219.48 L126.72 218.97 L127.57 218.46 L128.42 217.94 L129.27 217.43 L130.12 216.92 L130.98 216.41 L131.83 215.90 L132.68 215.39 L133.53 214.88 L134.39 214.37 L135.24 213.87 L136.09 213.36 L136.94 212.85 L137.80 212.35 L138.65 211.84 L139.51 211.34 L140.36 210.83 L141.21 210.33 L142.07 209.83 L142.92 209.32 L143.78 208.82 L144.63 208.32 L145.48 207.81 L146.34 207.31 L147.19 206.81 L148.05 206.31 L148.90 205.80 L149.76 205.30 L150.61 204.80 L151.47 204.30 L152.32 203.80 L153.18 203.30 L154.03 202.79 L154.88 202.29 L155.74 201.79 L156.59 201.29 L157.45 200.79 L158.30 200.28 L159.15 199.78 L160.01 199.28 L160.86 198.77 L161.71 198.27 L162.57 197.77 L163.42 197.26 L164.27 196.76 L165.12 196.25 L165.98 195.75 L166.83 195.24 L167.68 194.73 L168.53 194.23 L169.38 193.72 L170.23 193.21 L171.08 192.70 L171.93 192.19 L172.78 191.68 L173.63 191.17 L174.48 190.66 L175.33 190.15 L176.18 189.63 L177.03 189.12 L177.87 188.60 L178.72 188.09 L179.57 187.57 L180.41 187.05 L181.26 186.53 L182.11 186.02 L182.95 185.49 L183.79 184.97 L184.64 184.45 L185.48 183.93 L186.32 183.40 L187.17 182.87 L188.01 182.35 L188.85 181.82 L189.69 181.29 L190.53 180.76 L191.37 180.22 L192.21 179.69 L193.05 179.15 L193.89 178.62 L194.72 178.08 L195.56 177.54 L196.39 177.00 L197.23 176.46 L198.06 175.91 L198.90 175.37 L199.73 174.82 L200.56 174.27 L201.39 173.72 L202.22 173.17 L203.05 172.61 L203.88 172.06 L204.71 171.50 L205.54 170.94 L206.36 170.38 L207.19 169.81 L208.01 169.25 L208.83 168.68 L209.66 168.12 L210.48 167.54 L211.29 166.97 L212.11 166.40 L212.93 165.82 L213.74 165.24 L214.56 164.66 L215.37 164.08 L216.18 163.50 L216.99 162.91 L217.80 162.32 L218.60 161.73 L219.41 161.14 L220.21 160.55 L221.01 159.95 L221.81 159.35 L222.61 158.75 L223.41 158.15 L224.20 157.54 L224.99 156.94 L225.79 156.33 L226.57 155.72 L227.36 155.10 L228.15 154.48 L228.93 153.87 L229.71 153.24 L230.49 152.62 L231.26 152.00 L232.04 151.37 L232.81 150.74 L233.58 150.10 L234.35 149.47 L235.11 148.83 L235.87 148.19 L236.63 147.54 L237.39 146.90 L238.14 146.25 L238.90 145.60 L239.65 144.95 L240.39 144.29 L241.14 143.63 L241.88 142.97 L242.62 142.31 L243.36 141.64 L244.09 140.97 L244.82 140.30 L245.55 139.62 L246.27 138.94 L247.00 138.26 L247.72 137.58 L248.43 136.89 L249.14 136.20 L249.85 135.51 L250.56 134.82 L251.26 134.12 L251.96 133.42 L252.66 132.71 L253.36 132.01 L254.05 131.30 L254.73 130.58 L255.42 129.87 L256.10 129.15 L256.77 128.42 L257.45 127.70 L258.12 126.97 L258.78 126.24 L259.45 125.50 L260.10 124.77 L260.76 124.02 L261.41 123.28 L262.06 122.53 L262.70 121.78 L263.34 121.03 L263.98 120.27 L264.61 119.51 L265.24 118.74 L265.86 117.98 L266.48 117.21 L267.10 116.43 L267.71 115.65 L268.32 114.87 L268.92 114.09 L269.52 113.30 L270.12 112.51 L270.71 111.71 L271.29 110.91 L271.88 110.11 L272.45 109.30 L273.03 108.49 L273.60 107.68 L274.16 106.86 L274.72 106.04 L275.28 105.22 L275.83 104.39 L276.37 103.56 L276.91 102.72 L277.45 101.88 L277.98 101.04 L278.51 100.19 L279.03 99.34 L279.55 98.49 L280.06 97.63 L280.56 96.77 L281.13 95.82 L281.76 94.88 L282.45 93.95 L283.21 93.03 L284.03 92.12 L284.92 91.22 L285.87 90.33 L286.88 89.45 L287.96 88.59 L289.10 87.73 L290.31 86.88 L291.67 85.96 L293.03 85.03 L294.39 84.10 L295.75 83.18 L297.12 82.25 L298.48 81.33 L299.84 80.40 L301.20 79.47 L302.56 78.55 L303.92 77.62 L305.28 76.70 L306.65 75.77 L308.01 74.84 L309.37 73.92 L310.73 72.99 L312.09 72.07 L313.45 71.14 L314.82 70.22 L316.18 69.29 L317.54 68.36 L318.90 67.44 L320.26 66.51 L321.62 65.59 L322.98 64.66 L324.35 63.73 L325.71 62.81 L327.07 61.88 L328.43 60.96 L329.79 60.03 L331.15 59.10 L332.52 58.18 L333.88 57.25 L335.24 56.33 L336.60 55.40" fill="none" stroke="#ff0000" stroke-width="1.20"/>
<path d="M336.60 55.40 L336.45 56.99 L336.29 58.58 L336.11 60.16 L335.92 61.74 L335.71 63.31 L335.48 64.88 L335.25 66.44 L334.99 68.00 L334.73 69.56 L334.44 71.11 L334.15 72.65 L333.84 74.19 L333.51 75.72 L333.17 77.25 L332.82 78.78 L332.45 80.30 L332.07 81.81 L331.68 83.32 L331.27 84.82 L330.84 86.32 L330.41 87.81 L329.96 89.29 L329.49 90.77 L329.02 92.25 L328.53 93.72 L328.02 95.18 L327.51 96.64 L326.98 98.09 L326.44 99.53 L325.88 100.97 L325.31 102.41 L324.73 103.83 L324.14 105.26 L323.54 106.67 L322.92 108.08 L322.29 109.48 L321.64 110.88 L320.99 112.27 L320.32 113.65 L319.65 115.03 L318.95 116.40 L318.25 117.76 L317.54 119.12 L316.81 120.47 L316.08 121.82 L315.33 123.15 L314.57 124.49 L313.80 125.81 L313.01 127.13 L312.22 128.44 L311.41 129.74 L310.60 131.03 L309.77 132.32 L308.93 133.60 L308.09 134.88 L307.23 136.15 L306.36 137.41 L305.48 138.66 L304.59 139.90 L303.69 141.14 L302.78 142.37 L301.86 143.59 L300.93 144.81 L299.99 146.02 L299.04 147.21 L298.08 148.41 L297.11 149.59 L296.13 150.77 L295.14 151.93 L294.14 153.10 L293.13 154.25 L292.11 155.39 L291.09 156.53 L290.05 157.66 L289.01 158.78 L287.96 159.89 L286.89 160.99 L285.82 162.08 L284.74 163.17 L283.66 164.25 L282.56 165.32 L281.46 166.38 L280.34 167.43 L279.22 168.47 L278.09 169.51 L276.95 170.54 L275.81 171.55 L274.66 172.56 L273.49 173.56 L272.33 174.55 L271.15 175.53 L269.97 176.51 L268.77 177.47 L267.58 178.42 L266.37 179.37 L265.16 180.30 L263.94 181.23 L262.71 182.15 L261.47 183.06 L260.23 183.95 L258.99 184.84 L257.73 185.72 L256.47 186.59 L255.20 187.45 L253.93 188.30 L252.65 189.14 L251.36 189.97 L250.07 190.79 L248.77 191.60 L247.46 192.41 L246.15 193.20 L244.84 193.98 L243.51 194.75 L242.19 195.52 L240.85 196.27 L239.52 197.02 L238.17 197.76 L236.82 198.49 L235.47 199.21 L234.11 199.92 L232.75 200.63 L231.38 201.32 L230.00 202.01 L228.63 202.70 L227.24 203.37 L225.86 204.04 L224.47 204.70 L223.07 205.36 L221.67 206.01 L220.27 206.65 L218.86 207.28 L217.45 207.91 L216.04 208.54 L214.62 209.16 L213.20 209.77 L211.78 210.38 L210.35 210.98 L208.92 211.58 L207.49 212.17 L206.05 212.76 L204.61 213.34 L203.17 213.92 L201.73 214.49 L200.28 215.06 L198.83 215.63 L197.38 216.19 L195.93 216.75 L194.47 217.31 L193.02 217.86 L191.56 218.41 L190.10 218.96 L188.64 219.50 L187.17 220.04 L185.71 220.58 L184.24 221.12 L182.77 221.66 L181.30 222.19 L179.83 222.72 L178.36 223.25 L176.89 223.78 L175.42 224.31 L173.95 224.83 L172.47 225.36 L171.00 225.88 L169.53 226.41 L168.05 226.93 L166.58 227.46 L165.10 227.98 L163.63 228.50 L162.16 229.03 L160.68 229.55 L159.21 230.08 L157.74 230.61 L156.27 231.13 L154.79 231.66 L153.32 232.19 L151.86 232.72 L150.39 233.25 L148.92 233.79 L147.46 234.33 L145.99 234.86 L144.53 235.41 L143.07 235.95 L141.61 236.50 L140.15 237.04 L138.70 237.60 L137.24 238.15 L135.79 238.71 L134.34 239.27 L132.89 239.84 L131.45 240.41 L130.01 240.98 L128.57 241.56 L127.13 242.14 L125.70 242.73 L124.27 243.32 L122.84 243.91 L121.41 244.51 L119.99 245.12 L118.58 245.73 L117.16 246.35 L115.75 246.97 L114.34 247.60 L112.94 248.23 L111.54 248.87 L110.14 249.52 L108.75 250.17 L107.36 250.83 L105.98 251.50 L104.60 252.17 L103.23 252.85 L101.86 253.54 L100.49 254.24 L99.13 254.94 L97.78 255.65 L96.43 256.37 L95.08 257.10 L93.74 257.83 L92.41 258.58 L91.08 259.33 L89.76 260.09 L88.44 260.86 L87.13 261.64 L85.82 262.43 L84.52 263.23 L83.23 264.04 L81.94 264.86 L80.66 265.68 L79.38 266.52 L78.11 267.37 L76.85 268.23 L75.59 269.10 L74.35 269.98 L73.10 270.87 L71.87 271.77 L70.64 272.69 L69.42 273.61 L68.21 274.55 L67.00 275.50" fill="none" stroke="#0000ff" stroke-width="1.50"/>
<path d="M56.00 275.50 L56.79 274.52 L57.58 273.55 L58.40 272.60 L59.22 271.67 L60.06 270.75 L60.91 269.84 L61.77 268.94 L62.64 268.06 L63.53 267.20 L64.42 266.34 L65.33 265.50 L66.24 264.67 L67.17 263.85 L68.11 263.05 L69.05 262.25 L70.00 261.46 L70.97 260.69 L71.94 259.92 L72.92 259.17 L73.91 258.42 L74.90 257.68 L75.90 256.95 L76.91 256.23 L77.93 255.52 L78.95 254.81 L79.98 254.11 L81.02 253.42 L82.06 252.73 L83.10 252.05 L84.15 251.38 L85.21 250.71 L86.27 250.04 L87.33 249.38 L88.40 248.73 L89.47 248.08 L90.54 247.43 L91.61 246.78 L92.69 246.14 L93.77 245.50 L94.86 244.87 L95.94 244.23 L97.02 243.60 L98.11 242.96 L99.20 242.33 L100.29 241.70 L101.37 241.07 L102.46 240.43 L103.55 239.80 L104.63 239.17 L105.72 238.53 L106.80 237.89 L107.88 237.26 L108.96 236.61 L110.04 235.97 L111.12 235.33 L112.20 234.68 L113.27 234.04 L114.34 233.39 L115.42 232.74 L116.49 232.09 L117.56 231.44 L118.63 230.79 L119.70 230.13 L120.77 229.48 L121.84 228.83 L122.90 228.17 L123.97 227.51 L125.03 226.86 L126.10 226.20 L127.16 225.54 L128.23 224.88 L129.29 224.23 L130.36 223.57 L131.42 222.91 L132.48 222.25 L133.54 221.59 L134.61 220.93 L135.67 220.27 L136.73 219.62 L137.79 218.96 L138.85 218.30 L139.92 217.64 L140.98 216.99 L142.04 216.33 L143.10 215.68 L144.17 215.02 L145.23 214.37 L146.29 213.71 L147.36 213.06 L148.42 212.41 L149.49 211.76 L150.56 211.11 L151.62 210.46 L152.69 209.82 L153.76 209.17 L154.83 208.53 L155.90 207.89 L156.97 207.25 L158.04 206.61 L159.11 205.97 L160.19 205.34 L161.26 204.70 L162.34 204.07 L163.42 203.44 L164.50 202.82 L165.58 202.19 L166.66 201.57 L167.74 200.95 L168.83 200.33 L169.91 199.71 L171.00 199.10 L172.09 198.49 L173.18 197.88 L174.27 197.28 L175.37 196.67 L176.46 196.07 L177.56 195.47 L178.65 194.87 L179.75 194.28 L180.85 193.68 L181.95 193.09 L183.05 192.50 L184.16 191.91 L185.26 191.32 L186.36 190.73 L187.46 190.14 L188.57 189.55 L189.67 188.97 L190.78 188.38 L191.88 187.80 L192.99 187.21 L194.09 186.62 L195.20 186.04 L196.31 185.45 L197.41 184.87 L198.52 184.28 L199.62 183.69 L200.73 183.11 L201.83 182.52 L202.93 181.93 L204.04 181.34 L205.14 180.75 L206.24 180.16 L207.34 179.56 L208.44 178.97 L209.54 178.37 L210.64 177.77 L211.73 177.17 L212.83 176.57 L213.92 175.96 L215.02 175.36 L216.11 174.75 L217.20 174.14 L218.29 173.52 L219.37 172.91 L220.46 172.29 L221.54 171.66 L222.62 171.04 L223.70 170.41 L224.78 169.78 L225.85 169.14 L226.93 168.51 L228.00 167.86 L229.07 167.22 L230.13 166.57 L231.20 165.91 L232.26 165.25 L233.32 164.59 L234.37 163.93 L235.43 163.26 L236.48 162.58 L237.53 161.91 L238.58 161.23 L239.62 160.54 L240.66 159.85 L241.70 159.16 L242.74 158.46 L243.77 157.76 L244.80 157.06 L245.83 156.35 L246.86 155.64 L247.88 154.93 L248.90 154.21 L249.92 153.48 L250.94 152.76 L251.95 152.03 L252.96 151.29 L253.97 150.55 L254.97 149.81 L255.97 149.07 L256.97 148.32 L257.97 147.57 L258.96 146.81 L259.95 146.05 L260.94 145.29 L261.93 144.52 L262.91 143.75 L263.89 142.97 L264.87 142.20 L265.84 141.41 L266.81 140.63 L267.78 139.84 L268.75 139.05 L269.71 138.25 L270.67 137.45 L271.63 136.65 L272.58 135.84 L273.53 135.03 L274.48 134.22 L275.42 133.40 L276.36 132.58 L277.30 131.75 L278.24 130.92 L279.17 130.09 L280.10 129.26 L281.03 128.42 L281.95 127.58 L282.87 126.73 L283.79 125.88 L284.70 125.03 L285.62 124.17 L286.52 123.31 L287.43 122.45 L288.33 121.58 L289.23 120.71 L290.13 119.84 L291.02 118.96 L291.91 118.08 L292.79 117.20 L293.67 116.31 L294.55 115.42 L295.43 114.53 L296.30 113.63 L297.17 112.73 L298.04 111.83 L298.90 110.92 L299.76 110.01 L300.62 109.10 L301.47 108.18 L302.32 107.26 L303.17 106.34 L304.01 105.41 L304.85 104.48 L305.68 103.55 L306.52 102.61 L307.35 101.67 L308.17 100.73 L308.99 99.78 L309.81 98.84 L310.63 97.88 L311.44 96.93 L312.25 95.97 L313.05 95.01 L313.85 94.04 L314.65 93.08 L315.45 92.11 L316.24 91.13 L317.02 90.16 L317.81 89.18 L318.59 88.20 L319.36 87.22 L320.14 86.23 L320.90 85.24 L321.67 84.25 L322.43 83.25 L323.19 82.25 L323.94 81.25 L324.70 80.25 L325.44 79.24 L326.19 78.24 L326.93 77.23 L327.66 76.21 L328.39 75.20 L329.12 74.18 L329.85 73.16 L330.57 72.14 L331.29 71.11 L332.00 70.08 L332.71 69.06 L333.42 68.02 L334.12 66.99 L334.82 65.95 L335.51 64.91 L336.20 63.87 L336.89 62.83 L337.57 61.79 L338.25 60.74 L338.93 59.69 L339.60 58.64 L340.27 57.58 L340.93 56.53 L341.59 55.47 L342.43 54.13 L343.33 52.83 L344.27 51.56 L345.25 50.32 L346.29 49.12 L347.37 47.95 L348.50 46.81 L349.68 45.71 L350.90 44.64 L352.18 43.60 L353.50 42.60 L354.73 41.73 L355.97 40.86 L357.20 40.00 L358.43 39.15 L359.67 38.31 L360.90 37.48 L362.13 36.65 L363.37 35.83 L364.60 35.02 L365.83 34.22 L367.07 33.43 L368.30 32.64 L369.53 31.86 L370.77 31.09 L372.00 30.33 L373.23 29.58 L374.47 28.83 L375.70 28.09 L376.93 27.36 L378.17 26.64 L379.40 25.93 L380.63 25.22 L381.87 24.53 L383.10 23.84 L384.33 23.16 L385.57 22.48 L386.80 21.82 L388.03 21.16 L389.27 20.51 L390.50 19.87 L391.73 19.24 L392.97 18.62 L394.20 18.00" fill="none" stroke="#ff0000" stroke-width="1.20"/>
<path d="M198.52 184.28 L199.66 183.85 L200.81 183.42 L201.95 182.99 L203.10 182.55 L204.24 182.12 L205.38 181.69 L206.53 181.25 L207.67 180.81 L208.81 180.37 L209.95 179.93 L211.09 179.49 L212.23 179.05 L213.33 178.47 L214.42 177.86 L215.52 177.26 L216.61 176.65 L217.70 176.04 L218.79 175.42 L219.87 174.81 L220.96 174.19 L222.04 173.56 L223.12 172.94 L224.20 172.31 L225.28 171.68 L226.35 171.04 L227.43 170.41 L228.50 169.76 L229.57 169.12 L230.63 168.47 L231.70 167.81 L232.76 167.15 L233.82 166.49 L234.87 165.83 L235.93 165.16 L236.98 164.48 L238.03 163.81 L239.08 163.13 L240.12 162.44 L241.16 161.75 L242.20 161.06 L243.24 160.36 L244.27 159.66 L245.30 158.96 L246.33 158.25 L247.36 157.54 L248.38 156.83 L249.40 156.11 L250.42 155.38 L251.44 154.66 L252.45 153.93 L253.46 153.19 L254.47 152.45 L255.47 151.71 L256.47 150.97 L257.47 150.22 L258.47 149.47 L259.46 148.69 L260.43 147.85 L261.39 147.01 L262.36 146.16 L263.32 145.31 L264.28 144.46 L265.24 143.60 L266.19 142.74 L267.14 141.88 L268.09 141.01 L269.03 140.14 L269.98 139.27 L270.92 138.39 L271.85 137.51 L272.78 136.62 L273.71 135.73 L274.64 134.84 L275.57 133.95 L276.49 133.05 L277.41 132.14 L278.32 131.24 L279.23 130.33 L280.14 129.41 L281.05 128.50 L281.95 127.58" fill="none" stroke="#ff0000" stroke-width="0.95"/>
<path d="M393.80 18.00 L393.66 19.88 L393.51 21.76 L393.34 23.64 L393.16 25.52 L392.95 27.39 L392.73 29.26 L392.50 31.12 L392.24 32.98 L391.97 34.84 L391.68 36.69 L391.38 38.54 L391.06 40.39 L390.72 42.23 L390.37 44.07 L390.00 45.90 L389.61 47.73 L389.21 49.55 L388.79 51.37 L388.36 53.18 L387.91 54.99 L387.44 56.80 L386.96 58.60 L386.46 60.39 L385.95 62.18 L385.42 63.96 L384.87 65.74 L384.31 67.51 L383.74 69.28 L383.15 71.04 L382.54 72.80 L381.92 74.55 L381.28 76.29 L380.63 78.03 L379.97 79.76 L379.29 81.48 L378.59 83.20 L377.88 84.91 L377.16 86.61 L376.42 88.31 L375.66 90.00 L374.89 91.68 L374.11 93.36 L373.31 95.03 L372.50 96.69 L371.68 98.35 L370.84 99.99 L369.99 101.63 L369.12 103.26 L368.24 104.89 L367.34 106.50 L366.44 108.11 L365.51 109.71 L364.58 111.30 L363.63 112.88 L362.67 114.46 L361.69 116.02 L360.70 117.58 L359.70 119.13 L358.69 120.67 L357.66 122.20 L356.62 123.72 L355.57 125.23 L354.50 126.73 L353.42 128.23 L352.33 129.71 L351.23 131.19 L350.11 132.65 L348.98 134.11 L347.84 135.55 L346.69 136.99 L345.52 138.41 L344.35 139.83 L343.16 141.23 L341.95 142.62 L340.74 144.01 L339.52 145.38 L338.28 146.74 L337.03 148.09 L335.77 149.43 L334.50 150.76 L333.22 152.08 L331.92 153.39 L330.62 154.68 L329.30 155.97 L327.97 157.24 L326.64 158.50 L325.29 159.75 L323.93 160.99 L322.55 162.21 L321.17 163.42 L319.78 164.63 L318.38 165.81 L316.96 166.99 L315.54 168.15 L314.10 169.30 L312.66 170.44 L311.20 171.57 L309.74 172.68 L308.26 173.78 L306.78 174.87 L305.28 175.94 L303.78 177.00 L302.26 178.05 L300.74 179.08 L299.21 180.10 L297.66 181.11 L296.11 182.10 L294.55 183.08 L292.98 184.04 L291.40 185.00 L289.81 185.94 L288.21 186.86 L286.61 187.78 L284.99 188.68 L283.37 189.57 L281.74 190.45 L280.11 191.31 L278.47 192.17 L276.82 193.01 L275.16 193.84 L273.50 194.67 L271.83 195.48 L270.16 196.28 L268.47 197.07 L266.79 197.85 L265.10 198.62 L263.40 199.38 L261.70 200.14 L259.99 200.88 L258.28 201.62 L256.57 202.34 L254.85 203.06 L253.13 203.77 L251.40 204.47 L249.67 205.17 L247.94 205.85 L246.20 206.53 L244.46 207.21 L242.72 207.87 L240.97 208.53 L239.23 209.18 L237.47 209.83 L235.72 210.47 L233.97 211.10 L232.21 211.73 L230.45 212.35 L228.69 212.97 L226.92 213.58 L225.16 214.19 L223.39 214.80 L221.62 215.39 L219.85 215.99 L218.08 216.58 L216.30 217.17 L214.53 217.75 L212.75 218.33 L210.97 218.91 L209.20 219.48 L207.42 220.05 L205.64 220.62 L203.86 221.19 L202.08 221.75 L200.30 222.32 L198.51 222.88 L196.73 223.44 L194.95 223.99 L193.17 224.55 L191.39 225.11 L189.61 225.66 L187.83 226.22 L186.05 226.77 L184.27 227.33 L182.49 227.88 L180.71 228.44 L178.93 228.99 L177.15 229.55 L175.38 230.11 L173.60 230.66 L171.83 231.23 L170.06 231.79 L168.29 232.35 L166.52 232.92 L164.75 233.48 L162.98 234.06 L161.22 234.63 L159.46 235.20 L157.70 235.78 L155.94 236.37 L154.18 236.95 L152.43 237.54 L150.67 238.14 L148.92 238.74 L147.17 239.34 L145.43 239.95 L143.68 240.56 L141.94 241.17 L140.21 241.80 L138.47 242.42 L136.74 243.06 L135.01 243.70 L133.28 244.34 L131.56 245.00 L129.84 245.65 L128.12 246.32 L126.40 246.99 L124.69 247.67 L122.98 248.36 L121.28 249.05 L119.58 249.75 L117.88 250.46 L116.19 251.18 L114.50 251.91 L112.81 252.64 L111.13 253.39 L109.45 254.14 L107.78 254.90 L106.11 255.68 L104.45 256.46 L102.79 257.25 L101.13 258.05 L99.48 258.86 L97.83 259.69 L96.19 260.52 L94.55 261.37 L92.92 262.22 L91.29 263.09 L89.66 263.97 L88.05 264.86 L86.43 265.76 L84.82 266.68 L83.22 267.60 L81.62 268.54 L80.03 269.50 L78.45 270.46 L76.87 271.44 L75.29 272.44 L73.72 273.44 L72.16 274.46 L70.60 275.50" fill="none" stroke="#0000ff" stroke-width="1.50"/>
<path d="M162.80 168.20 L164.30 167.63 L165.80 167.05 L167.30 166.44 L168.80 165.82 L170.30 165.18 L171.80 164.51 L173.30 163.84 L174.80 163.14 L176.30 162.42 L177.80 161.69 L179.30 160.94 L180.80 160.17 L182.30 159.38 L183.80 158.57 L185.30 157.74 L186.80 156.90 L188.30 156.04 L189.80 155.16 L191.30 154.26 L192.80 153.34 L194.30 152.40 L195.80 151.45 L197.30 150.47 L198.80 149.48 L200.30 148.47 L201.80 147.44 L203.30 146.40 L204.80 145.33 L206.30 144.25 L207.80 143.15 L209.30 142.03 L210.80 140.89 L212.30 139.73 L213.80 138.55 L215.30 137.36 L216.80 136.15 L218.30 134.92 L219.80 133.67 L221.30 132.40 L221.30 132.40 L222.79 131.57 L224.28 130.74 L225.77 129.90 L227.26 129.04 L228.75 128.19 L230.24 127.32 L231.73 126.45 L233.22 125.56 L234.71 124.67 L236.20 123.77 L237.69 122.87 L239.18 121.96 L240.67 121.03 L242.16 120.10 L243.65 119.17 L245.14 118.22 L246.63 117.27 L248.12 116.31 L249.61 115.34 L251.09 114.36 L252.58 113.38 L254.07 112.38 L255.56 111.38 L257.05 110.37 L258.54 109.36 L260.03 108.33 L261.52 107.30 L263.01 106.26 L264.50 105.21 L265.99 104.16 L267.48 103.09 L268.97 102.02 L270.46 100.94 L271.95 99.86 L273.44 98.76 L274.93 97.66 L276.42 96.55 L277.91 95.43 L279.40 94.30 L279.40 94.30 L280.87 93.40 L282.33 92.50 L283.80 91.59 L285.27 90.68 L286.73 89.76 L288.20 88.84 L289.67 87.91 L291.13 86.97 L292.60 86.03 L294.07 85.09 L295.53 84.14 L297.00 83.18 L298.47 82.22 L299.93 81.26 L301.40 80.29 L302.87 79.31 L304.33 78.33 L305.80 77.34 L307.27 76.35 L308.73 75.35 L310.20 74.35 L311.67 73.34 L313.13 72.33 L314.60 71.31 L316.07 70.28 L317.53 69.26 L319.00 68.22 L320.47 67.18 L321.93 66.14 L323.40 65.09 L324.87 64.03 L326.33 62.97 L327.80 61.91 L329.27 60.83 L330.73 59.76 L332.20 58.68 L333.67 57.59 L335.13 56.50 L336.60 55.40 L336.60 55.40 L338.08 54.59 L339.55 53.77 L341.03 52.95 L342.51 52.12 L343.98 51.28 L345.46 50.43 L346.94 49.57 L348.42 48.71 L349.89 47.83 L351.37 46.95 L352.85 46.07 L354.32 45.17 L355.80 44.27 L357.28 43.36 L358.75 42.44 L360.23 41.51 L361.71 40.57 L363.18 39.63 L364.66 38.68 L366.14 37.72 L367.62 36.75 L369.09 35.78 L370.57 34.80 L372.05 33.80 L373.52 32.81 L375.00 31.80 L376.48 30.79 L377.95 29.76 L379.43 28.73 L380.91 27.70 L382.38 26.65 L383.86 25.60 L385.34 24.53 L386.82 23.47 L388.29 22.39 L389.77 21.30 L391.25 20.21 L392.72 19.11 L394.20 18.00" fill="none" stroke="#ff0000" stroke-width="1.70" stroke-dasharray="4.2 2.4"/>
<path d="M50.50 275.50 L50.80 274.91 L51.10 274.32 L51.41 273.73 L51.72 273.14 L52.03 272.56 L52.34 271.98 L52.66 271.40 L52.98 270.82 L53.30 270.25 L53.63 269.68 L53.96 269.11 L54.29 268.54 L54.62 267.97 L54.95 267.41 L55.29 266.85 L55.63 266.29 L55.98 265.73 L56.32 265.17 L56.67 264.62 L57.02 264.07 L57.37 263.52 L57.73 262.97 L58.08 262.42 L58.44 261.88 L58.81 261.34 L59.17 260.80 L59.54 260.26 L59.91 259.72 L60.28 259.19 L60.65 258.66 L61.03 258.12 L61.41 257.60 L61.79 257.07 L62.17 256.54 L62.56 256.02 L62.94 255.50 L63.33 254.98 L63.72 254.46 L64.12 253.95 L64.51 253.43 L64.91 252.92 L65.31 252.41 L65.71 251.90 L66.12 251.39 L66.52 250.88 L66.93 250.38 L67.34 249.88 L67.76 249.38 L68.17 248.88 L68.59 248.38 L69.00 247.88 L69.42 247.39 L69.85 246.90 L70.27 246.41 L70.69 245.92 L71.12 245.43 L71.55 244.94 L71.98 244.46 L72.42 243.97 L72.85 243.49 L73.29 243.01 L73.72 242.53 L74.16 242.05 L74.61 241.58 L75.05 241.10 L75.49 240.63 L75.94 240.15 L76.39 239.68 L76.84 239.21 L77.29 238.75 L77.74 238.28 L78.20 237.81 L78.65 237.35 L79.11 236.89 L79.57 236.43 L80.03 235.96 L80.49 235.51 L80.96 235.05 L81.42 234.59 L81.89 234.14 L82.36 233.68 L82.83 233.23 L83.30 232.78 L83.77 232.33 L84.24 231.88 L84.72 231.43 L85.19 230.98 L85.67 230.54 L86.15 230.09 L86.63 229.65 L87.11 229.20 L87.59 228.76 L88.08 228.32 L88.56 227.88 L89.05 227.44 L89.54 227.00 L90.03 226.57 L90.51 226.13 L91.01 225.70 L91.50 225.26 L91.99 224.83 L92.48 224.40 L92.98 223.97 L93.48 223.54 L93.97 223.11 L94.47 222.68 L94.97 222.25 L95.47 221.83 L95.97 221.40 L96.47 220.98 L96.97 220.55 L97.48 220.13 L97.98 219.71 L98.49 219.28 L98.99 218.86 L99.50 218.44 L100.01 218.02 L100.52 217.60 L101.03 217.19 L101.54 216.77 L102.05 216.35 L102.56 215.94 L103.07 215.52 L103.59 215.10 L104.10 214.69 L104.61 214.28 L105.13 213.86 L105.65 213.45 L106.16 213.04 L106.68 212.63 L107.20 212.22 L107.71 211.81 L108.23 211.40 L108.75 210.99 L109.27 210.58 L109.79 210.17 L110.31 209.76 L110.83 209.36 L111.35 208.95 L111.88 208.54 L112.40 208.14 L112.92 207.73 L113.44 207.33 L113.97 206.92 L114.49 206.52 L115.02 206.11 L115.54 205.71 L116.06 205.30 L116.59 204.90 L117.11 204.50 L117.64 204.10 L118.17 203.69 L118.69 203.29 L119.22 202.89 L119.74 202.49 L120.27 202.09 L120.80 201.68 L121.32 201.28 L121.85 200.88 L122.38 200.48 L122.90 200.08 L123.43 199.68 L123.96 199.28 L124.48 198.88 L125.01 198.48 L125.54 198.08 L126.06 197.68 L126.59 197.28 L127.12 196.88 L127.64 196.48 L128.17 196.08 L128.70 195.68 L129.22 195.28 L129.75 194.88 L130.28 194.48 L130.80 194.08 L131.33 193.68 L131.85 193.28 L132.38 192.88 L132.90 192.48 L133.43 192.08 L133.95 191.68 L134.47 191.28 L135.00 190.88 L135.52 190.48 L136.04 190.07 L136.57 189.67 L137.09 189.27 L137.61 188.87 L138.13 188.47 L138.65 188.07 L139.17 187.66 L139.69 187.26 L140.21 186.86 L140.73 186.45 L141.25 186.05 L141.77 185.65 L142.29 185.24 L142.80 184.84 L143.32 184.43 L143.83 184.03 L144.35 183.62 L144.86 183.21 L145.38 182.81 L145.89 182.40 L146.40 181.99 L146.91 181.58 L147.42 181.17 L147.93 180.77 L148.44 180.36 L148.95 179.95 L149.46 179.54 L149.97 179.12 L150.47 178.71 L150.98 178.30 L151.48 177.89 L151.98 177.47 L152.49 177.06 L152.99 176.64 L153.49 176.23 L153.99 175.81 L154.49 175.40 L154.98 174.98 L155.48 174.56 L155.98 174.14 L156.47 173.72 L156.97 173.30 L157.46 172.88 L157.95 172.46 L158.44 172.04 L158.93 171.62 L159.42 171.19 L159.90 170.77 L160.39 170.34 L160.87 169.91 L161.36 169.49 L161.84 169.06 L162.32 168.63 L162.80 168.20" fill="none" stroke="#ff0000" stroke-width="1.70" stroke-dasharray="4.2 2.4"/>
<path d="M162.04 167.96 L161.83 168.58 L161.62 169.20 L161.40 169.81 L161.18 170.42 L160.95 171.02 L160.72 171.62 L160.48 172.21 L160.24 172.81 L160.00 173.40 L159.75 173.98 L159.50 174.57 L159.24 175.14 L158.98 175.72 L158.71 176.29 L158.44 176.86 L158.17 177.43 L157.89 177.99 L157.61 178.55 L157.32 179.10 L157.03 179.66 L156.73 180.20 L156.43 180.75 L156.13 181.29 L155.82 181.83 L155.51 182.37 L155.19 182.90 L154.87 183.43 L154.55 183.96 L154.22 184.48 L153.89 185.00 L153.56 185.52 L153.22 186.04 L152.88 186.55 L152.53 187.06 L152.18 187.56 L151.83 188.07 L151.47 188.57 L151.11 189.06 L150.75 189.56 L150.38 190.05 L150.01 190.54 L149.64 191.02 L149.26 191.51 L148.88 191.99 L148.49 192.46 L148.11 192.94 L147.71 193.41 L147.32 193.88 L146.92 194.35 L146.52 194.81 L146.12 195.27 L145.71 195.73 L145.30 196.18 L144.89 196.64 L144.47 197.09 L144.05 197.54 L143.63 197.98 L143.20 198.43 L142.78 198.87 L142.34 199.30 L141.91 199.74 L141.47 200.17 L141.03 200.60 L140.59 201.03 L140.15 201.46 L139.70 201.88 L139.25 202.30 L138.79 202.72 L138.34 203.14 L137.88 203.56 L137.42 203.97 L136.95 204.38 L136.50 204.79 L136.05 205.22 L135.60 205.65 L135.16 206.08 L134.70 206.51 L134.25 206.93 L133.79 207.35 L133.34 207.77 L132.88 208.20 L132.43 208.63 L131.98 209.06 L131.52 209.49 L131.06 209.91 L130.61 210.34 L130.14 210.77 L129.68 211.19 L129.22 211.61 L128.75 212.03 L128.28 212.45 L127.81 212.87 L127.34 213.29 L126.86 213.71 L126.39 214.12 L125.91 214.54 L125.43 214.95 L124.94 215.36 L124.46 215.77 L123.97 216.17 L123.48 216.58 L122.98 216.98 L122.49 217.38 L122.00 217.79 L121.50 218.19 L121.00 218.59 L120.50 218.99 L120.00 219.39 L119.50 219.79 L119.00 220.19 L118.49 220.58 L117.99 220.98 L117.48 221.37 L116.97 221.77 L116.47 222.16 L115.96 222.56 L115.45 222.95 L114.93 223.34 L114.42 223.74 L113.91 224.13 L113.39 224.52 L112.88 224.91 L112.36 225.30 L111.84 225.69 L111.32 226.08 L110.80 226.47 L110.28 226.86 L109.76 227.25 L109.24 227.63 L108.72 228.02 L108.20 228.41 L107.67 228.80 L107.15 229.18 L106.63 229.57 L106.10 229.96 L105.58 230.35 L105.05 230.73 L104.53 231.12 L104.00 231.50 L103.47 231.89 L102.94 232.28 L102.42 232.66 L101.89 233.05 L101.36 233.44 L100.83 233.82 L100.31 234.21 L99.78 234.60 L99.25 234.98 L98.72 235.37 L98.19 235.76 L97.66 236.14 L97.14 236.53 L96.61 236.92 L96.08 237.31 L95.55 237.69 L95.02 238.08 L94.50 238.47 L93.97 238.86 L93.44 239.25 L92.91 239.64 L92.39 240.03 L91.86 240.42 L91.33 240.81 L90.81 241.21 L90.28 241.60 L89.76 241.99 L89.23 242.38 L88.71 242.78 L88.19 243.17 L87.67 243.57 L87.14 243.96 L86.62 244.36 L86.10 244.76 L85.58 245.16 L85.06 245.56 L84.54 245.96 L84.03 246.36 L83.51 246.76 L83.00 247.16 L82.48 247.56 L81.97 247.97 L81.45 248.37 L80.94 248.78 L80.43 249.18 L79.92 249.59 L79.41 250.00 L78.90 250.41 L78.40 250.82 L77.89 251.23 L77.39 251.65 L76.89 252.06 L76.38 252.48 L75.88 252.89 L75.39 253.31 L74.89 253.73 L74.39 254.15 L73.90 254.57 L73.40 255.00 L72.91 255.42 L72.42 255.85 L71.93 256.27 L71.45 256.70 L70.96 257.13 L70.48 257.56 L70.00 258.00 L69.52 258.43 L69.04 258.87 L68.56 259.30 L68.09 259.74 L67.61 260.18 L67.14 260.63 L66.68 261.07 L66.21 261.51 L65.74 261.96 L65.30 262.43 L64.92 262.96 L64.53 263.49 L64.15 264.02 L63.78 264.55 L63.40 265.08 L63.03 265.62 L62.66 266.15 L62.30 266.69 L61.93 267.22 L61.58 267.76 L61.22 268.30 L60.87 268.84 L60.52 269.38 L60.17 269.92 L59.82 270.46 L59.48 271.01 L59.15 271.55 L58.81 272.10 L58.48 272.65 L58.16 273.20 L57.83 273.75 L57.51 274.30 L57.20 274.85 L56.88 275.41" fill="none" stroke="#0000ff" stroke-width="1.80" stroke-dasharray="4.2 2.4"/>
<path d="M51.90 275.50 L52.18 274.78 L52.46 274.07 L52.75 273.39 L53.05 272.71 L53.36 272.03 L53.67 271.37 L54.00 270.71 L54.33 270.05 L54.67 269.40 L55.01 268.76 L55.36 268.12 L55.72 267.49 L56.09 266.87 L56.47 266.25 L56.85 265.63 L57.23 265.02 L57.63 264.42 L58.03 263.82 L58.43 263.23 L58.85 262.64 L59.27 262.06 L59.69 261.48 L60.12 260.91 L60.56 260.34 L61.00 259.78 L61.45 259.22 L61.90 258.67 L62.36 258.12 L62.83 257.57 L63.30 257.03 L63.77 256.50 L64.25 255.97 L64.73 255.44 L65.22 254.91 L65.72 254.40 L66.22 253.88 L66.72 253.37 L67.23 252.86 L67.74 252.35 L68.25 251.85 L68.77 251.36 L69.29 250.86 L69.82 250.37 L70.35 249.88 L70.89 249.40 L71.42 248.92 L71.96 248.44 L72.51 247.97 L73.06 247.49 L73.61 247.02 L74.16 246.56 L74.72 246.09 L75.27 245.63 L75.84 245.17 L76.40 244.72 L76.96 244.26 L77.53 243.81 L78.10 243.36 L78.68 242.91 L79.25 242.47 L79.83 242.02 L80.41 241.58 L80.98 241.14 L81.57 240.70 L82.15 240.27 L82.73 239.81 L83.32 239.33 L83.90 238.85 L84.49 238.38 L85.08 237.91 L85.67 237.44 L86.26 236.96 L86.85 236.49 L87.44 236.03 L88.03 235.56 L88.62 235.09 L89.21 234.62 L89.80 234.16 L90.39 233.69 L90.98 233.23 L91.57 232.76 L92.17 232.30 L92.76 231.84 L93.35 231.38 L93.94 230.91 L94.54 230.45 L95.13 230.00 L95.72 229.54 L96.32 229.08 L96.91 228.62 L97.51 228.16 L98.10 227.71 L98.70 227.25 L99.29 226.80 L99.89 226.35 L100.48 225.89 L101.08 225.44 L101.68 224.99 L102.28 224.54 L102.87 224.09 L103.47 223.64 L104.07 223.19 L104.67 222.74 L105.27 222.30 L105.87 221.85 L106.47 221.41 L107.07 220.96 L107.68 220.52 L108.28 220.07 L108.88 219.63 L109.48 219.19 L110.09 218.75 L110.69 218.31 L111.29 217.86 L111.90 217.42 L112.50 216.98 L113.10 216.54 L113.71 216.10 L114.31 215.66 L114.92 215.22 L115.52 214.78 L116.12 214.34 L116.73 213.90 L117.33 213.46 L117.93 213.01 L118.53 212.57 L119.14 212.13 L119.74 211.69 L120.34 211.24 L120.94 210.80 L121.54 210.35 L122.14 209.90 L122.74 209.46 L123.34 209.01 L123.93 208.56 L124.53 208.11 L125.12 207.66 L125.72 207.21 L126.31 206.75 L126.91 206.30 L127.50 205.84 L128.09 205.39 L128.68 204.93 L129.27 204.47 L129.86 204.01 L130.45 203.55 L131.04 203.08 L131.62 202.62 L132.21 202.15 L132.79 201.69 L133.37 201.22 L133.96 200.75 L134.54 200.28 L135.12 199.80 L135.69 199.33 L136.27 198.85 L136.85 198.37 L137.42 197.90 L137.99 197.42 L138.57 196.93 L139.14 196.45 L139.71 195.97 L140.28 195.48 L140.85 195.00 L141.42 194.51 L141.99 194.02 L142.55 193.53 L143.12 193.04 L143.68 192.55 L144.25 192.06 L144.81 191.57 L145.38 191.07 L145.94 190.58 L146.51 190.09 L147.07 189.59 L147.63 189.10 L148.20 188.60 L148.76 188.10 L149.32 187.61 L149.88 187.11 L150.44 186.62 L151.01 186.12 L151.57 185.62 L152.13 185.13 L152.69 184.63 L153.25 184.13 L153.82 183.64 L154.38 183.14 L154.94 182.64 L155.50 182.15 L156.07 181.65 L156.63 181.16 L157.19 180.66 L157.76 180.17 L158.32 179.67 L158.89 179.18 L159.45 178.69 L160.02 178.20 L160.58 177.71 L161.15 177.21 L161.72 176.63 L162.29 176.04 L162.85 175.44 L163.42 174.85 L163.99 174.26 L164.57 173.67 L165.14 173.08 L165.71 172.49 L166.28 171.91 L166.86 171.32 L167.43 170.73 L168.01 170.15 L168.59 169.57 L169.17 168.99 L169.75 168.41 L170.33 167.83 L170.91 167.25 L171.50 166.67 L172.08 166.10 L172.67 165.53 L173.25 164.96 L173.84 164.39 L174.43 163.82 L175.03 163.25" fill="none" stroke="#ff0000" stroke-width="1.70" stroke-dasharray="4.2 2.4"/>
<path d="M220.52 132.23 L220.32 133.22 L220.11 134.20 L219.89 135.17 L219.67 136.14 L219.44 137.10 L219.20 138.05 L218.95 138.99 L218.69 139.93 L218.42 140.86 L218.15 141.79 L217.87 142.70 L217.58 143.61 L217.29 144.52 L216.98 145.42 L216.67 146.31 L216.35 147.19 L216.03 148.07 L215.69 148.95 L215.35 149.81 L215.00 150.67 L214.65 151.53 L214.28 152.37 L213.91 153.22 L213.53 154.05 L213.15 154.88 L212.76 155.71 L212.36 156.53 L211.95 157.34 L211.54 158.15 L211.12 158.95 L210.70 159.74 L210.26 160.53 L209.82 161.32 L209.38 162.10 L208.92 162.87 L208.47 163.64 L208.00 164.40 L207.53 165.16 L207.05 165.91 L206.57 166.66 L206.07 167.40 L205.58 168.14 L205.08 168.87 L204.57 169.60 L204.04 170.32 L203.51 171.02 L202.97 171.73 L202.43 172.43 L201.88 173.12 L201.32 173.81 L200.76 174.49 L200.19 175.17 L199.62 175.84 L199.04 176.51 L198.45 177.17 L197.86 177.83 L197.27 178.48 L196.66 179.13 L196.06 179.77 L195.44 180.41 L194.82 181.04 L194.20 181.67 L193.57 182.29 L192.93 182.90 L192.29 183.52 L191.65 184.13 L191.00 184.73 L190.34 185.33 L189.68 185.92 L189.02 186.51 L188.35 187.10 L187.68 187.68 L187.00 188.26 L186.32 188.84 L185.64 189.41 L184.96 189.98 L184.27 190.55 L183.57 191.11 L182.87 191.67 L182.17 192.23 L181.47 192.78 L180.76 193.33 L180.04 193.88 L179.33 194.42 L178.61 194.96 L177.88 195.50 L177.15 196.03 L176.42 196.56 L175.69 197.09 L174.95 197.62 L174.21 198.14 L173.46 198.66 L172.71 199.17 L171.96 199.69 L171.21 200.20 L170.45 200.70 L169.69 201.21 L168.92 201.70 L168.15 202.20 L167.38 202.69 L166.61 203.18 L165.83 203.67 L165.05 204.15 L164.27 204.63 L163.48 205.12 L162.69 205.59 L161.90 206.07 L161.11 206.54 L160.31 207.02 L159.52 207.49 L158.72 207.95 L157.91 208.42 L157.11 208.89 L156.30 209.35 L155.50 209.81 L154.69 210.27 L153.87 210.73 L153.06 211.18 L152.25 211.64 L151.43 212.09 L150.61 212.54 L149.79 213.00 L148.97 213.44 L148.14 213.89 L147.32 214.34 L146.49 214.79 L145.67 215.23 L144.84 215.68 L144.01 216.12 L143.17 216.56 L142.34 217.00 L141.51 217.44 L140.67 217.88 L139.84 218.32 L139.00 218.76 L138.16 219.20 L137.32 219.64 L136.49 220.08 L135.65 220.51 L134.80 220.95 L133.96 221.39 L133.13 221.84 L132.30 222.30 L131.47 222.77 L130.65 223.23 L129.82 223.69 L128.99 224.15 L128.16 224.62 L127.33 225.08 L126.50 225.54 L125.67 226.01 L124.84 226.47 L124.01 226.93 L123.18 227.40 L122.35 227.86 L121.52 228.33 L120.69 228.79 L119.86 229.26 L119.03 229.73 L118.21 230.20 L117.38 230.66 L116.55 231.13 L115.72 231.60 L114.90 232.07 L114.07 232.55 L113.25 233.02 L112.42 233.49 L111.60 233.97 L110.78 234.44 L109.96 234.92 L109.14 235.40 L108.32 235.88 L107.50 236.36 L106.69 236.84 L105.87 237.33 L105.06 237.81 L104.24 238.30 L103.43 238.79 L102.62 239.28 L101.82 239.77 L101.01 240.27 L100.20 240.76 L99.40 241.26 L98.60 241.76 L97.80 242.26 L97.00 242.76 L96.21 243.27 L95.41 243.78 L94.62 244.29 L93.83 244.80 L93.05 245.31 L92.26 245.83 L91.48 246.35 L90.70 246.87 L89.92 247.39 L89.14 247.92 L88.37 248.45 L87.60 248.98 L86.83 249.51 L86.07 250.05 L85.30 250.59 L84.55 251.13 L83.79 251.68 L83.03 252.23 L82.28 252.78 L81.54 253.33 L80.79 253.89 L80.05 254.45 L79.31 255.01 L78.58 255.58 L77.84 256.15 L77.12 256.72 L76.39 257.30 L75.67 257.88 L74.98 258.50 L74.34 259.17 L73.70 259.85 L73.06 260.52 L72.43 261.20 L71.80 261.88 L71.18 262.57 L70.56 263.25 L69.95 263.94 L69.34 264.64 L68.74 265.33 L68.14 266.03 L67.55 266.73 L66.96 267.44 L66.38 268.14 L65.81 268.86 L65.24 269.57 L64.67 270.29 L64.12 271.01 L63.56 271.73 L63.02 272.46 L62.48 273.19 L61.94 273.92 L61.41 274.66 L60.89 275.40" fill="none" stroke="#0000ff" stroke-width="1.80" stroke-dasharray="4.2 2.4"/>
<path d="M53.40 275.57 L53.80 274.91 L54.20 274.25 L54.60 273.60 L55.02 272.96 L55.43 272.31 L55.85 271.68 L56.28 271.05 L56.70 270.42 L57.14 269.80 L57.58 269.19 L58.02 268.58 L58.47 267.97 L58.92 267.37 L59.37 266.77 L59.83 266.18 L60.29 265.59 L60.76 265.01 L61.23 264.43 L61.71 263.86 L62.19 263.29 L62.67 262.72 L63.16 262.16 L63.65 261.60 L64.15 261.05 L64.65 260.50 L65.15 259.96 L65.66 259.42 L66.17 258.88 L66.68 258.35 L67.20 257.82 L67.72 257.29 L68.24 256.77 L68.77 256.26 L69.30 255.74 L69.84 255.23 L70.38 254.73 L70.92 254.22 L71.46 253.72 L72.01 253.23 L72.56 252.74 L73.12 252.25 L73.68 251.76 L74.24 251.28 L74.80 250.80 L75.37 250.33 L75.94 249.86 L76.51 249.39 L77.09 248.92 L77.66 248.46 L78.25 248.00 L78.83 247.54 L79.42 247.09 L80.01 246.64 L80.60 246.19 L81.19 245.75 L81.79 245.31 L82.39 244.87 L82.99 244.39 L83.60 243.92 L84.20 243.45 L84.81 242.98 L85.42 242.51 L86.04 242.04 L86.65 241.58 L87.27 241.12 L87.89 240.66 L88.51 240.21 L89.14 239.75 L89.77 239.30 L90.40 238.85 L91.03 238.40 L91.66 237.96 L92.29 237.52 L92.93 237.07 L93.57 236.63 L94.21 236.20 L94.85 235.76 L95.49 235.32 L96.14 234.89 L96.78 234.46 L97.43 234.03 L98.08 233.60 L98.73 233.17 L99.39 232.75 L100.04 232.32 L100.69 231.90 L101.35 231.48 L102.01 231.06 L102.67 230.64 L103.33 230.22 L103.99 229.81 L104.65 229.39 L105.32 228.98 L105.98 228.56 L106.65 228.15 L107.31 227.74 L107.98 227.33 L108.65 226.92 L109.32 226.51 L109.99 226.10 L110.66 225.70 L111.33 225.29 L112.01 224.88 L112.68 224.48 L113.35 224.08 L114.03 223.67 L114.70 223.27 L115.38 222.86 L116.05 222.46 L116.73 222.06 L117.40 221.66 L118.08 221.26 L118.76 220.85 L119.43 220.45 L120.11 220.05 L120.79 219.65 L121.47 219.25 L122.15 218.85 L122.82 218.45 L123.50 218.05 L124.18 217.65 L124.86 217.25 L125.53 216.85 L126.21 216.45 L126.89 216.04 L127.57 215.64 L128.24 215.24 L128.92 214.84 L129.59 214.43 L130.27 214.03 L130.95 213.63 L131.62 213.22 L132.29 212.82 L132.97 212.41 L133.64 212.01 L134.31 211.60 L134.98 211.19 L135.66 210.78 L136.33 210.37 L137.00 209.96 L137.66 209.55 L138.33 209.14 L139.00 208.73 L139.66 208.31 L140.33 207.90 L140.99 207.48 L141.66 207.07 L142.32 206.65 L142.98 206.23 L143.64 205.81 L144.30 205.38 L144.95 204.96 L145.61 204.54 L146.26 204.11 L146.91 203.68 L147.57 203.25 L148.22 202.82 L148.86 202.39 L149.51 201.95 L150.16 201.52 L150.80 201.08 L151.44 200.64 L152.08 200.20 L152.72 199.76 L153.36 199.31 L153.99 198.87 L154.63 198.42 L155.26 197.97 L155.89 197.52 L156.52 197.07 L157.15 196.61 L157.78 196.16 L158.40 195.70 L159.03 195.24 L159.65 194.78 L160.27 194.32 L160.89 193.86 L161.51 193.39 L162.13 192.93 L162.75 192.46 L163.37 192.00 L163.98 191.53 L164.60 191.06 L165.21 190.58 L165.82 190.11 L166.43 189.64 L167.04 189.16 L167.65 188.69 L168.26 188.21 L168.87 187.73 L169.48 187.25 L170.08 186.77 L170.69 186.29 L171.29 185.81 L171.90 185.33 L172.50 184.84 L173.10 184.36 L173.71 183.87 L174.31 183.38 L174.91 182.89 L175.51 182.41 L176.11 181.92 L176.71 181.43 L177.31 180.93 L177.91 180.44 L178.51 179.95 L179.10 179.46 L179.70 178.96 L180.30 178.47 L180.90 177.95 L181.49 177.43 L182.09 176.91 L182.68 176.39 L183.28 175.87 L183.87 175.35 L184.47 174.82 L185.06 174.30 L185.66 173.77 L186.25 173.25 L186.84 172.72 L187.43 172.19 L188.03 171.67 L188.62 171.14 L189.21 170.61 L189.80 170.08 L190.38 169.54 L190.97 169.01 L191.56 168.48 L192.15 167.94 L192.73 167.41 L193.32 166.87 L193.90 166.33 L194.48 165.79 L195.06 165.26 L195.65 164.71 L196.23 164.17 L196.81 163.63 L197.38 163.09 L197.96 162.54 L198.54 161.99 L199.11 161.45 L199.68 160.90 L200.26 160.35 L200.83 159.80 L201.40 159.25 L201.97 158.69 L202.54 158.14 L203.10 157.58 L203.67 157.03 L204.23 156.47 L204.79 155.91 L205.35 155.35 L205.91 154.81 L206.47 154.26 L207.03 153.72 L207.58 153.18 L208.14 152.63 L208.69 152.08 L209.24 151.53 L209.79 150.98 L210.34 150.43 L210.88 149.88 L211.43 149.32 L211.97 148.77 L212.51 148.21 L213.05 147.65 L213.59 147.09 L214.12 146.53 L214.66 145.96 L215.19 145.39 L215.72 144.83 L216.25 144.26 L216.77 143.69 L217.30 143.11 L217.82 142.54 L218.34 141.96 L218.86 141.38 L219.38 140.80 L219.89 140.21 L220.40 139.62 L220.91 139.03 L221.42 138.43 L221.93 137.83 L222.43 137.23 L222.93 136.62 L223.43 136.02 L223.93 135.41 L224.42 134.80 L224.91 134.19 L225.40 133.58 L225.89 132.97 L226.60 132.06 L227.36 131.17 L228.16 130.29 L229.01 129.42 L229.89 128.56 L230.82 127.72 L231.80 126.88 L232.81 126.06" fill="none" stroke="#ff0000" stroke-width="1.70" stroke-dasharray="4.2 2.4"/>
<path d="M278.41 94.17 L278.21 95.45 L277.99 96.72 L277.76 97.98 L277.53 99.24 L277.28 100.49 L277.02 101.74 L276.75 102.99 L276.47 104.22 L276.17 105.45 L275.87 106.68 L275.56 107.90 L275.24 109.11 L274.90 110.32 L274.56 111.53 L274.20 112.72 L273.84 113.91 L273.46 115.10 L273.07 116.28 L272.68 117.46 L272.27 118.63 L271.86 119.79 L271.43 120.95 L271.00 122.10 L270.55 123.25 L270.10 124.39 L269.63 125.52 L269.16 126.65 L268.67 127.77 L268.18 128.89 L267.68 130.00 L267.17 131.11 L266.64 132.21 L266.11 133.31 L265.57 134.40 L265.03 135.48 L264.47 136.56 L263.90 137.63 L263.33 138.69 L262.74 139.75 L262.15 140.81 L261.55 141.86 L260.94 142.90 L260.32 143.94 L259.69 144.97 L259.06 145.99 L258.42 147.01 L257.76 148.03 L257.10 149.04 L256.44 150.04 L255.76 151.03 L255.08 152.03 L254.38 153.01 L253.68 153.99 L252.98 154.96 L252.26 155.93 L251.54 156.89 L250.81 157.84 L250.07 158.79 L249.33 159.74 L248.57 160.67 L247.81 161.60 L247.05 162.53 L246.27 163.45 L245.49 164.36 L244.70 165.27 L243.91 166.17 L243.10 167.07 L242.29 167.96 L241.48 168.84 L240.65 169.72 L239.82 170.59 L238.99 171.46 L238.15 172.32 L237.30 173.17 L236.44 174.02 L235.58 174.86 L234.71 175.69 L233.84 176.52 L232.96 177.35 L232.07 178.16 L231.18 178.97 L230.28 179.78 L229.38 180.58 L228.47 181.37 L227.55 182.16 L226.63 182.94 L225.71 183.71 L224.77 184.48 L223.84 185.24 L222.89 186.00 L221.95 186.75 L220.99 187.49 L220.03 188.23 L219.07 188.96 L218.10 189.69 L217.13 190.41 L216.15 191.11 L215.16 191.82 L214.17 192.51 L213.17 193.20 L212.17 193.89 L211.17 194.56 L210.16 195.24 L209.14 195.90 L208.12 196.57 L207.10 197.22 L206.08 197.87 L205.05 198.52 L203.99 199.13 L202.94 199.74 L201.87 200.33 L200.81 200.93 L199.74 201.52 L198.67 202.10 L197.59 202.68 L196.52 203.25 L195.43 203.82 L194.35 204.39 L193.26 204.95 L192.17 205.51 L191.08 206.06 L189.98 206.61 L188.89 207.15 L187.78 207.69 L186.68 208.23 L185.57 208.76 L184.46 209.29 L183.35 209.82 L182.24 210.35 L181.12 210.87 L180.01 211.38 L178.89 211.90 L177.76 212.41 L176.64 212.92 L175.51 213.42 L174.39 213.93 L173.26 214.43 L172.12 214.93 L170.99 215.42 L169.86 215.92 L168.72 216.41 L167.58 216.90 L166.44 217.39 L165.30 217.88 L164.16 218.36 L163.02 218.85 L161.87 219.33 L160.73 219.81 L159.58 220.29 L158.44 220.77 L157.29 221.25 L156.14 221.72 L154.99 222.20 L153.84 222.67 L152.69 223.15 L151.54 223.62 L150.38 224.10 L149.23 224.57 L148.08 225.04 L146.92 225.52 L145.77 225.99 L144.62 226.46 L143.46 226.94 L142.31 227.41 L141.16 227.88 L140.00 228.36 L138.85 228.83 L137.69 229.31 L136.54 229.78 L135.39 230.26 L134.24 230.74 L133.10 231.25 L131.96 231.77 L130.83 232.29 L129.70 232.81 L128.56 233.33 L127.43 233.86 L126.30 234.38 L125.18 234.91 L124.05 235.44 L122.92 235.97 L121.80 236.50 L120.67 237.04 L119.55 237.58 L118.43 238.12 L117.31 238.66 L116.19 239.21 L115.08 239.76 L113.96 240.31 L112.85 240.86 L111.74 241.42 L110.63 241.97 L109.52 242.54 L108.42 243.10 L107.32 243.67 L106.22 244.24 L105.12 244.82 L104.02 245.40 L102.93 245.98 L101.84 246.57 L100.76 247.16 L99.67 247.75 L98.59 248.35 L97.51 248.95 L96.44 249.56 L95.36 250.17 L94.29 250.79 L93.23 251.41 L92.16 252.03 L91.10 252.66 L90.05 253.30 L89.00 253.94 L87.95 254.58 L86.90 255.23 L85.87 255.91 L84.89 256.66 L83.92 257.41 L82.95 258.17 L81.98 258.94 L81.02 259.71 L80.07 260.49 L79.12 261.27 L78.18 262.05 L77.24 262.84 L76.31 263.64 L75.38 264.44 L74.46 265.25 L73.54 266.06 L72.63 266.88 L71.73 267.70 L70.84 268.53 L69.95 269.37 L69.06 270.21 L68.19 271.06 L67.31 271.91 L66.45 272.77 L65.59 273.64 L64.74 274.51 L63.90 275.39" fill="none" stroke="#0000ff" stroke-width="1.80" stroke-dasharray="4.2 2.4"/>
<path d="M54.90 275.87 L55.29 274.94 L55.70 274.05 L56.15 273.19 L56.63 272.36 L57.14 271.56 L57.67 270.80 L58.23 270.06 L58.82 269.35 L59.42 268.67 L60.05 268.01 L60.69 267.37 L61.36 266.75 L62.04 266.16 L62.74 265.57 L63.45 265.01 L64.17 264.45 L64.90 263.91 L65.65 263.38 L66.40 262.86 L67.15 262.35 L67.92 261.84 L68.68 261.33 L69.45 260.83 L70.23 260.33 L71.00 259.83 L71.78 259.33 L72.56 258.83 L73.34 258.34 L74.12 257.85 L74.91 257.36 L75.70 256.87 L76.49 256.39 L77.28 255.91 L78.07 255.43 L78.87 254.95 L79.67 254.47 L80.47 254.00 L81.27 253.52 L82.07 253.05 L82.88 252.51 L83.68 251.92 L84.49 251.34 L85.30 250.75 L86.11 250.17 L86.93 249.59 L87.74 249.01 L88.56 248.43 L89.38 247.85 L90.20 247.28 L91.02 246.70 L91.84 246.13 L92.66 245.56 L93.49 244.99 L94.31 244.43 L95.14 243.86 L95.97 243.30 L96.80 242.73 L97.63 242.17 L98.46 241.62 L99.29 241.06 L100.13 240.50 L100.96 239.95 L101.80 239.40 L102.63 238.84 L103.47 238.29 L104.31 237.75 L105.14 237.20 L105.98 236.66 L106.82 236.11 L107.66 235.57 L108.50 235.03 L109.34 234.49 L110.19 233.95 L111.03 233.42 L111.87 232.88 L112.71 232.35 L113.56 231.82 L114.40 231.29 L115.25 230.76 L116.09 230.23 L116.94 229.71 L117.78 229.18 L118.63 228.66 L119.48 228.13 L120.33 227.61 L121.17 227.09 L122.02 226.57 L122.87 226.05 L123.72 225.53 L124.57 225.01 L125.42 224.50 L126.27 223.98 L127.12 223.47 L127.97 222.96 L128.82 222.44 L129.67 221.93 L130.52 221.42 L131.38 220.91 L132.23 220.40 L133.08 219.89 L133.93 219.38 L134.79 218.87 L135.64 218.37 L136.49 217.86 L137.34 217.35 L138.20 216.85 L139.05 216.34 L139.91 215.84 L140.76 215.33 L141.61 214.83 L142.47 214.33 L143.32 213.82 L144.18 213.32 L145.03 212.82 L145.88 212.31 L146.74 211.81 L147.59 211.31 L148.45 210.81 L149.30 210.30 L150.16 209.80 L151.01 209.30 L151.87 208.80 L152.72 208.30 L153.58 207.80 L154.43 207.29 L155.28 206.79 L156.14 206.29 L156.99 205.79 L157.85 205.29 L158.70 204.78 L159.55 204.28 L160.41 203.78 L161.26 203.27 L162.11 202.77 L162.97 202.27 L163.82 201.76 L164.67 201.26 L165.52 200.75 L166.38 200.25 L167.23 199.74 L168.08 199.23 L168.93 198.73 L169.78 198.22 L170.63 197.71 L171.48 197.20 L172.33 196.69 L173.18 196.18 L174.03 195.67 L174.88 195.16 L175.73 194.65 L176.58 194.13 L177.43 193.62 L178.27 193.10 L179.12 192.59 L179.97 192.07 L180.81 191.55 L181.66 191.03 L182.51 190.52 L183.35 189.99 L184.19 189.47 L185.04 188.95 L185.88 188.43 L186.72 187.90 L187.57 187.37 L188.41 186.85 L189.25 186.32 L190.09 185.79 L190.93 185.26 L191.77 184.72 L192.61 184.16 L193.45 183.51 L194.29 182.86 L195.12 182.21 L195.96 181.56 L196.79 180.90 L197.63 180.25 L198.46 179.59 L199.30 178.93 L200.13 178.27 L200.96 177.61 L201.79 176.95 L202.62 176.29 L203.45 175.62 L204.28 174.95 L205.11 174.28 L205.94 173.61 L206.76 172.94 L207.59 172.26 L208.41 171.59 L209.23 170.91 L210.06 170.23 L210.88 169.55 L211.69 168.87 L212.51 168.20 L213.33 167.62 L214.14 167.04 L214.96 166.46 L215.77 165.88 L216.58 165.30 L217.39 164.71 L218.20 164.12 L219.00 163.53 L219.81 162.94 L220.61 162.35 L221.41 161.75 L222.21 161.15 L223.01 160.55 L223.81 159.95 L224.60 159.34 L225.39 158.74 L226.19 158.08 L226.97 157.43 L227.76 156.77 L228.55 156.11 L229.33 155.45 L230.11 154.79 L230.89 154.12 L231.66 153.45 L232.44 152.78 L233.21 152.11 L233.98 151.43 L234.75 150.75 L235.51 150.07 L236.27 149.39 L237.03 148.71 L237.79 148.02 L238.54 147.33 L239.30 146.64 L240.05 145.94 L240.79 145.24 L241.54 144.54 L242.28 143.84 L243.02 143.14 L243.76 142.43 L244.49 141.72 L245.22 141.01 L245.95 140.32 L246.67 139.64 L247.40 138.96 L248.12 138.28 L248.83 137.59 L249.54 136.90 L250.25 136.21 L250.96 135.52 L251.66 134.82 L252.36 134.12 L253.06 133.41 L253.76 132.71 L254.45 132.00 L255.13 131.28 L255.82 130.57 L256.50 129.85 L257.17 129.12 L257.85 128.40 L258.52 127.67 L259.18 126.94 L259.85 126.20 L260.50 125.47 L261.16 124.72 L261.81 123.98 L262.46 123.23 L263.10 122.48 L263.74 121.73 L264.38 120.97 L265.01 120.21 L265.64 119.44 L266.26 118.68 L266.88 117.91 L267.50 117.13 L268.11 116.35 L268.72 115.57 L269.32 114.79 L269.92 114.00 L270.52 113.21 L271.11 112.41 L271.69 111.61 L272.28 110.81 L272.85 110.00 L273.43 109.19 L274.00 108.38 L274.56 107.54 L275.12 106.70 L275.68 105.86 L276.23 105.01 L276.77 104.16 L277.31 103.30 L277.85 102.45 L278.38 101.59 L278.91 100.72 L279.43 99.85 L279.95 98.98 L280.46 98.10 L280.96 97.22 L281.53 96.25 L282.16 95.29 L282.85 94.34 L283.61 93.39 L284.43 92.45 L285.32 91.52 L286.27 90.60 L287.28 89.69" fill="none" stroke="#ff0000" stroke-width="1.70" stroke-dasharray="4.2 2.4"/>
<path d="M335.80 55.32 L335.66 56.91 L335.51 58.49 L335.34 60.07 L335.15 61.64 L334.95 63.21 L334.73 64.77 L334.50 66.33 L334.26 67.88 L334.00 69.43 L333.73 70.97 L333.44 72.51 L333.14 74.05 L332.82 75.57 L332.49 77.10 L332.14 78.62 L331.78 80.13 L331.41 81.64 L331.02 83.14 L330.62 84.64 L330.21 86.13 L329.78 87.62 L329.34 89.10 L328.88 90.58 L328.41 92.05 L327.93 93.51 L327.44 94.97 L326.93 96.43 L326.41 97.88 L325.88 99.32 L325.33 100.76 L324.77 102.19 L324.20 103.61 L323.61 105.03 L323.02 106.45 L322.41 107.85 L321.78 109.25 L321.15 110.65 L320.50 112.04 L319.85 113.42 L319.17 114.80 L318.49 116.16 L317.80 117.53 L317.09 118.88 L316.37 120.24 L315.65 121.58 L314.90 122.92 L314.15 124.25 L313.39 125.57 L312.61 126.89 L311.83 128.20 L311.03 129.50 L310.22 130.80 L309.40 132.09 L308.57 133.37 L307.73 134.64 L306.88 135.91 L306.02 137.17 L305.15 138.42 L304.27 139.67 L303.37 140.91 L302.47 142.14 L301.56 143.37 L300.63 144.58 L299.70 145.79 L298.76 146.99 L297.80 148.19 L296.84 149.37 L295.87 150.55 L294.89 151.72 L293.89 152.88 L292.89 154.04 L291.88 155.19 L290.86 156.32 L289.84 157.45 L288.80 158.58 L287.75 159.69 L286.70 160.80 L285.63 161.90 L284.56 162.99 L283.48 164.07 L282.39 165.14 L281.29 166.20 L280.18 167.26 L279.07 168.31 L277.94 169.35 L276.81 170.38 L275.67 171.40 L274.52 172.41 L273.37 173.41 L272.21 174.41 L271.03 175.39 L269.86 176.37 L268.67 177.34 L267.48 178.30 L266.28 179.25 L265.07 180.19 L263.85 181.11 L262.62 182.03 L261.39 182.93 L260.15 183.83 L258.90 184.72 L257.65 185.60 L256.39 186.47 L255.12 187.33 L253.85 188.18 L252.57 189.02 L251.28 189.85 L249.99 190.67 L248.69 191.48 L247.39 192.28 L246.08 193.07 L244.76 193.85 L243.44 194.62 L242.11 195.39 L240.78 196.14 L239.44 196.89 L238.10 197.62 L236.75 198.35 L235.40 199.07 L234.04 199.79 L232.68 200.49 L231.31 201.19 L229.94 201.88 L228.56 202.56 L227.18 203.24 L225.79 203.91 L224.40 204.57 L223.01 205.22 L221.61 205.87 L220.21 206.51 L218.80 207.15 L217.39 207.78 L215.98 208.40 L214.56 209.02 L213.14 209.63 L211.72 210.24 L210.29 210.84 L208.86 211.44 L207.43 212.03 L206.00 212.62 L204.55 213.19 L203.09 213.72 L201.63 214.24 L200.16 214.76 L198.70 215.28 L197.23 215.79 L195.75 216.30 L194.28 216.80 L192.81 217.30 L191.33 217.80 L189.85 218.30 L188.37 218.79 L186.89 219.28 L185.41 219.77 L183.92 220.26 L182.44 220.74 L180.95 221.22 L179.46 221.70 L177.98 222.18 L176.49 222.66 L175.00 223.13 L173.51 223.61 L172.02 224.08 L170.53 224.55 L169.03 225.03 L167.54 225.50 L166.05 225.97 L164.56 226.44 L163.06 226.92 L161.57 227.39 L160.08 227.86 L158.59 228.34 L157.10 228.81 L155.60 229.29 L154.11 229.77 L152.62 230.24 L151.13 230.73 L149.64 231.21 L148.15 231.69 L146.67 232.18 L145.18 232.67 L143.70 233.16 L142.21 233.65 L140.73 234.15 L139.25 234.65 L137.77 235.15 L136.29 235.66 L134.81 236.17 L133.34 236.71 L131.89 237.28 L130.44 237.85 L128.99 238.43 L127.54 239.01 L126.09 239.59 L124.65 240.18 L123.21 240.78 L121.78 241.38 L120.34 241.98 L118.91 242.59 L117.48 243.21 L116.06 243.83 L114.63 244.46 L113.22 245.09 L111.80 245.73 L110.39 246.38 L108.98 247.03 L107.58 247.69 L106.18 248.35 L104.78 249.03 L103.39 249.71 L102.00 250.39 L100.62 251.09 L99.24 251.79 L97.86 252.50 L96.50 253.23 L95.19 254.06 L93.88 254.89 L92.58 255.72 L91.28 256.57 L89.99 257.42 L88.71 258.29 L87.43 259.16 L86.16 260.04 L84.90 260.92 L83.65 261.82 L82.40 262.73 L81.16 263.64 L79.93 264.56 L78.70 265.50 L77.49 266.44 L76.28 267.39 L75.08 268.36 L73.88 269.33 L72.70 270.31 L71.52 271.31 L70.36 272.31 L69.20 273.32 L68.05 274.35 L66.91 275.38" fill="none" stroke="#0000ff" stroke-width="1.80" stroke-dasharray="4.2 2.4"/>
<path d="M56.40 276.19 L57.19 275.35 L57.98 274.52 L58.80 273.71 L59.62 272.92 L60.46 272.14 L61.31 271.38 L62.17 270.64 L63.04 269.91 L63.93 269.20 L64.82 268.50 L65.73 267.81 L66.64 267.14 L67.57 266.48 L68.51 265.84 L69.45 265.20 L70.40 264.58 L71.37 263.98 L72.34 263.38 L73.32 262.79 L74.31 262.22 L75.30 261.65 L76.30 261.10 L77.31 260.55 L78.33 260.01 L79.35 259.48 L80.38 258.96 L81.42 258.45 L82.46 257.93 L83.50 257.25 L84.55 256.58 L85.61 255.91 L86.67 255.24 L87.73 254.58 L88.80 253.93 L89.87 253.28 L90.94 252.63 L92.01 251.98 L93.09 251.34 L94.17 250.70 L95.26 250.07 L96.34 249.43 L97.42 248.80 L98.51 248.16 L99.60 247.53 L100.69 246.90 L101.77 246.27 L102.86 245.63 L103.95 245.00 L105.03 244.37 L106.12 243.73 L107.20 243.09 L108.28 242.46 L109.36 241.81 L110.44 241.17 L111.52 240.53 L112.60 239.88 L113.67 239.24 L114.74 238.59 L115.82 237.94 L116.89 237.29 L117.96 236.64 L119.03 235.99 L120.10 235.33 L121.17 234.68 L122.24 234.03 L123.30 233.37 L124.37 232.71 L125.43 232.06 L126.50 231.40 L127.56 230.74 L128.63 230.08 L129.69 229.43 L130.76 228.77 L131.82 228.11 L132.88 227.45 L133.94 226.79 L135.01 226.13 L136.07 225.47 L137.13 224.82 L138.19 224.16 L139.25 223.50 L140.32 222.84 L141.38 222.19 L142.44 221.53 L143.50 220.88 L144.57 220.22 L145.63 219.57 L146.69 218.91 L147.76 218.26 L148.82 217.61 L149.89 216.96 L150.96 216.31 L152.02 215.66 L153.09 215.02 L154.16 214.37 L155.23 213.73 L156.30 213.09 L157.37 212.45 L158.44 211.81 L159.51 211.17 L160.59 210.54 L161.66 209.90 L162.74 209.27 L163.82 208.64 L164.90 208.02 L165.98 207.39 L167.06 206.77 L168.14 206.15 L169.23 205.53 L170.31 204.91 L171.40 204.30 L172.49 203.69 L173.58 203.08 L174.67 202.48 L175.77 201.87 L176.86 201.27 L177.96 200.67 L179.05 200.07 L180.15 199.48 L181.25 198.88 L182.35 198.29 L183.45 197.70 L184.56 197.11 L185.66 196.52 L186.76 195.93 L187.86 195.34 L188.97 194.75 L190.07 194.17 L191.18 193.58 L192.28 193.00 L193.39 192.41 L194.49 191.82 L195.60 191.24 L196.71 190.65 L197.81 190.07 L198.92 189.48 L200.02 188.89 L201.13 188.31 L202.23 187.72 L203.33 187.13 L204.44 186.54 L205.54 185.95 L206.64 185.36 L207.74 184.76 L208.84 184.17 L209.94 183.57 L211.04 182.97 L212.13 182.37 L213.23 181.77 L214.32 181.16 L215.42 180.56 L216.51 179.95 L217.60 179.34 L218.69 178.72 L219.77 178.11 L220.86 177.49 L221.94 176.86 L223.02 176.24 L224.10 175.61 L225.18 174.98 L226.25 174.30 L227.33 173.60 L228.40 172.90 L229.47 172.19 L230.53 171.48 L231.60 170.77 L232.66 170.06 L233.72 169.34 L234.77 168.61 L235.83 167.88 L236.88 167.15 L237.93 166.42 L238.98 165.68 L240.02 164.94 L241.06 164.19 L242.10 163.44 L243.14 162.69 L244.17 161.93 L245.20 161.17 L246.23 160.41 L247.26 159.64 L248.28 158.87 L249.30 158.09 L250.32 157.31 L251.34 156.53 L252.35 155.74 L253.36 154.95 L254.37 154.16 L255.37 153.37 L256.37 152.56 L257.37 151.76 L258.37 150.95 L259.36 150.14 L260.35 149.33 L261.34 148.51 L262.33 147.69 L263.31 146.80 L264.29 145.90 L265.27 145.00 L266.24 144.15 L267.21 143.29 L268.18 142.44 L269.15 141.57 L270.11 140.71 L271.07 139.84 L272.03 138.97 L272.98 138.10 L273.93 137.22 L274.88 136.34 L275.82 135.46 L276.76 134.57 L277.70 133.68 L278.64 132.79 L279.57 131.89 L280.50 130.99 L281.43 130.09 L282.35 129.18 L283.27 128.27 L284.19 127.36 L285.10 126.44 L286.02 125.52 L286.92 124.60 L287.83 123.67 L288.73 122.74 L289.63 121.81 L290.53 120.87 L291.42 119.93 L292.31 118.99 L293.19 118.10 L294.07 117.21 L294.95 116.32 L295.83 115.43 L296.70 114.53 L297.57 113.63 L298.44 112.73 L299.30 111.82 L300.16 110.91 L301.02 110.00 L301.87 109.08 L302.72 108.16 L303.57 107.24 L304.41 106.31 L305.25 105.38 L306.08 104.45 L306.92 103.51 L307.75 102.57 L308.57 101.63 L309.39 100.68 L310.21 99.74 L311.03 98.78 L311.84 97.83 L312.65 96.87 L313.45 95.91 L314.25 94.94 L315.05 93.98 L315.85 93.01 L316.64 92.03 L317.42 91.06 L318.21 90.08 L318.99 89.10 L319.76 88.12 L320.54 87.13 L321.30 86.14 L322.07 85.15 L322.83 84.15 L323.59 83.15 L324.34 82.15 L325.10 81.15 L325.84 80.14 L326.59 79.14 L327.33 78.13 L328.06 77.11 L328.79 76.10 L329.52 75.08 L330.25 74.06 L330.97 73.04 L331.69 72.01 L332.40 70.98 L333.11 69.96 L333.82 68.92 L334.52 67.89 L335.22 66.85 L335.91 65.81 L336.60 64.78 L337.29 63.81 L337.97 62.83 L338.65 61.85 L339.33 60.86 L340.00 59.88 L340.67 58.89 L341.33 57.90 L341.99 56.90 L342.83 55.65 L343.73 54.43 L344.67 53.25 L345.65 52.11 L346.69 51.00 L347.77 49.94 L348.90 48.91 L350.08 47.92" fill="none" stroke="#ff0000" stroke-width="1.70" stroke-dasharray="4.2 2.4"/>
<path d="M393.00 17.94 L392.87 19.82 L392.73 21.70 L392.57 23.57 L392.39 25.44 L392.19 27.30 L391.98 29.16 L391.75 31.02 L391.51 32.88 L391.24 34.73 L390.96 36.58 L390.67 38.42 L390.35 40.26 L390.02 42.10 L389.68 43.93 L389.32 45.76 L388.94 47.58 L388.54 49.40 L388.13 51.21 L387.71 53.02 L387.27 54.83 L386.81 56.63 L386.33 58.43 L385.84 60.22 L385.34 62.00 L384.82 63.78 L384.28 65.56 L383.73 67.33 L383.16 69.09 L382.58 70.85 L381.98 72.60 L381.37 74.35 L380.74 76.09 L380.10 77.82 L379.44 79.55 L378.77 81.27 L378.08 82.99 L377.38 84.70 L376.66 86.40 L375.93 88.10 L375.18 89.78 L374.42 91.47 L373.65 93.14 L372.86 94.81 L372.06 96.47 L371.24 98.12 L370.41 99.77 L369.56 101.41 L368.70 103.04 L367.83 104.66 L366.94 106.28 L366.04 107.89 L365.13 109.49 L364.20 111.08 L363.26 112.66 L362.31 114.23 L361.34 115.80 L360.36 117.36 L359.36 118.91 L358.36 120.45 L357.34 121.98 L356.30 123.50 L355.26 125.02 L354.20 126.52 L353.13 128.01 L352.04 129.50 L350.95 130.98 L349.84 132.44 L348.72 133.90 L347.58 135.35 L346.44 136.78 L345.28 138.21 L344.11 139.63 L342.93 141.03 L341.73 142.43 L340.52 143.82 L339.31 145.19 L338.08 146.56 L336.83 147.91 L335.58 149.25 L334.32 150.58 L333.04 151.91 L331.75 153.22 L330.45 154.51 L329.14 155.80 L327.82 157.08 L326.49 158.34 L325.15 159.60 L323.79 160.84 L322.43 162.07 L321.05 163.28 L319.66 164.49 L318.26 165.68 L316.86 166.86 L315.44 168.03 L314.01 169.18 L312.57 170.33 L311.11 171.45 L309.65 172.56 L308.18 173.66 L306.69 174.75 L305.20 175.82 L303.69 176.88 L302.18 177.93 L300.66 178.96 L299.12 179.98 L297.58 180.98 L296.03 181.97 L294.47 182.95 L292.90 183.92 L291.32 184.87 L289.73 185.81 L288.14 186.73 L286.53 187.65 L284.92 188.55 L283.30 189.44 L281.67 190.31 L280.04 191.18 L278.40 192.03 L276.75 192.88 L275.09 193.71 L273.43 194.53 L271.76 195.34 L270.09 196.14 L268.41 196.93 L266.73 197.71 L265.04 198.49 L263.34 199.25 L261.64 200.00 L259.93 200.74 L258.22 201.48 L256.51 202.20 L254.79 202.92 L253.07 203.63 L251.34 204.33 L249.61 205.03 L247.88 205.71 L246.15 206.39 L244.41 207.07 L242.67 207.73 L240.92 208.39 L239.17 209.04 L237.42 209.69 L235.67 210.33 L233.92 210.96 L232.16 211.59 L230.40 212.21 L228.64 212.83 L226.87 213.44 L225.11 214.05 L223.34 214.65 L221.57 215.25 L219.80 215.85 L218.03 216.44 L216.26 217.02 L214.48 217.61 L212.71 218.19 L210.93 218.77 L209.15 219.34 L207.37 219.91 L205.59 220.48 L203.80 221.01 L202.00 221.51 L200.20 222.01 L198.40 222.50 L196.60 223.00 L194.79 223.49 L192.99 223.99 L191.19 224.48 L189.39 224.97 L187.59 225.46 L185.79 225.96 L183.99 226.45 L182.19 226.94 L180.39 227.43 L178.60 227.92 L176.80 228.42 L175.00 228.91 L173.21 229.41 L171.41 229.91 L169.62 230.41 L167.83 230.91 L166.04 231.41 L164.25 231.92 L162.46 232.43 L160.67 232.94 L158.88 233.46 L157.10 233.97 L155.31 234.50 L153.53 235.02 L151.75 235.55 L149.97 236.09 L148.20 236.62 L146.42 237.17 L144.65 237.72 L142.88 238.27 L141.11 238.83 L139.34 239.39 L137.57 239.96 L135.81 240.54 L134.05 241.12 L132.31 241.77 L130.58 242.43 L128.85 243.09 L127.12 243.76 L125.39 244.43 L123.67 245.12 L121.95 245.81 L120.24 246.51 L118.52 247.21 L116.81 247.93 L115.11 248.65 L113.41 249.38 L111.71 250.13 L110.01 250.88 L108.32 251.64 L106.68 252.50 L105.04 253.37 L103.41 254.26 L101.78 255.16 L100.16 256.06 L98.54 256.98 L96.93 257.90 L95.33 258.84 L93.73 259.78 L92.13 260.74 L90.55 261.71 L88.97 262.69 L87.39 263.68 L85.82 264.68 L84.26 265.69 L82.71 266.72 L81.16 267.76 L79.62 268.81 L78.08 269.87 L76.55 270.94 L75.03 272.03 L73.52 273.13 L72.01 274.25 L70.52 275.37" fill="none" stroke="#0000ff" stroke-width="1.80" stroke-dasharray="4.2 2.4"/>
</g>
<g stroke="#262626" stroke-width="1.15" fill="none">
<rect x="48.5" y="5.45" width="363.7" height="270.95"/>
<line x1="105.8" y1="276.4" x2="105.8" y2="271.9"/>
<line x1="105.8" y1="5.5" x2="105.8" y2="9.9"/>
<line x1="163.3" y1="276.4" x2="163.3" y2="271.9"/>
<line x1="163.3" y1="5.5" x2="163.3" y2="9.9"/>
<line x1="220.9" y1="276.4" x2="220.9" y2="271.9"/>
<line x1="220.9" y1="5.5" x2="220.9" y2="9.9"/>
<line x1="278.5" y1="276.4" x2="278.5" y2="271.9"/>
<line x1="278.5" y1="5.5" x2="278.5" y2="9.9"/>
<line x1="336.1" y1="276.4" x2="336.1" y2="271.9"/>
<line x1="336.1" y1="5.5" x2="336.1" y2="9.9"/>
<line x1="393.6" y1="276.4" x2="393.6" y2="271.9"/>
<line x1="393.6" y1="5.5" x2="393.6" y2="9.9"/>
<line x1="48.5" y1="219.7" x2="53.0" y2="219.7"/>
<line x1="412.2" y1="219.7" x2="407.7" y2="219.7"/>
<line x1="48.5" y1="163.0" x2="53.0" y2="163.0"/>
<line x1="412.2" y1="163.0" x2="407.7" y2="163.0"/>
<line x1="48.5" y1="106.2" x2="53.0" y2="106.2"/>
<line x1="412.2" y1="106.2" x2="407.7" y2="106.2"/>
<line x1="48.5" y1="49.5" x2="53.0" y2="49.5"/>
<line x1="412.2" y1="49.5" x2="407.7" y2="49.5"/>
</g>
<g class="sans">
<text transform="translate(57.0,292.0) scale(0.985,1)" text-anchor="middle">1.0</text>
<text transform="translate(105.8,292.0) scale(0.985,1)" text-anchor="middle">1.5</text>
<text transform="translate(163.3,292.0) scale(0.985,1)" text-anchor="middle">2.0</text>
<text transform="translate(220.9,292.0) scale(0.985,1)" text-anchor="middle">2.5</text>
<text transform="translate(278.5,292.0) scale(0.985,1)" text-anchor="middle">3.0</text>
<text transform="translate(336.1,292.0) scale(0.985,1)" text-anchor="middle">3.5</text>
<text transform="translate(393.6,292.0) scale(0.985,1)" text-anchor="middle">4.0</text>
<text transform="translate(43.9,274.8) scale(0.985,1)" text-anchor="end">0.0</text>
<text transform="translate(43.9,223.4) scale(0.985,1)" text-anchor="end">1.0</text>
<text transform="translate(43.9,166.7) scale(0.985,1)" text-anchor="end">2.0</text>
<text transform="translate(43.9,109.9) scale(0.985,1)" text-anchor="end">3.0</text>
<text transform="translate(43.9,53.2) scale(0.985,1)" text-anchor="end">4.0</text>
</g>
<rect x="68.9" y="24.1" width="226.2" height="40.5" fill="#fff" stroke="#5a5a5a" stroke-width="1.3"/>
<line x1="77.7" y1="34.8" x2="108.5" y2="34.8" stroke="#0000ff" stroke-width="1.9" stroke-dasharray="4.3 2.3"/>
<line x1="113.2" y1="34.8" x2="144.0" y2="34.8" stroke="#ff0000" stroke-width="1.9" stroke-dasharray="4.3 2.3"/>
<line x1="77.7" y1="52.1" x2="108.5" y2="52.1" stroke="#0000ff" stroke-width="1.9"/>
<line x1="113.2" y1="52.1" x2="144.0" y2="52.1" stroke="#ff0000" stroke-width="1.9"/>
<g class="serif">
<text x="148.8" y="39.8" textLength="64.2" lengthAdjust="spacingAndGlyphs">Numerical</text><text x="217.7" y="39.8" textLength="67.6" lengthAdjust="spacingAndGlyphs">calculation</text>
<text x="149.6" y="57.7" textLength="82.8" lengthAdjust="spacingAndGlyphs">Experimental</text><text x="235.4" y="57.7" textLength="25.6" lengthAdjust="spacingAndGlyphs">data</text>
<text x="202.6" y="310.3" font-size="17.6" textLength="50.2" lengthAdjust="spacingAndGlyphs">Stretch</text>
<text transform="translate(259.4,311.2) scale(1.14,1)" font-size="20.6">λ</text>
<text transform="translate(15.0,213.2) rotate(-90)" font-size="17.6" textLength="144.6" lengthAdjust="spacingAndGlyphs">Nominal stress/MPa</text>
</g>
</svg>
</body></html>
